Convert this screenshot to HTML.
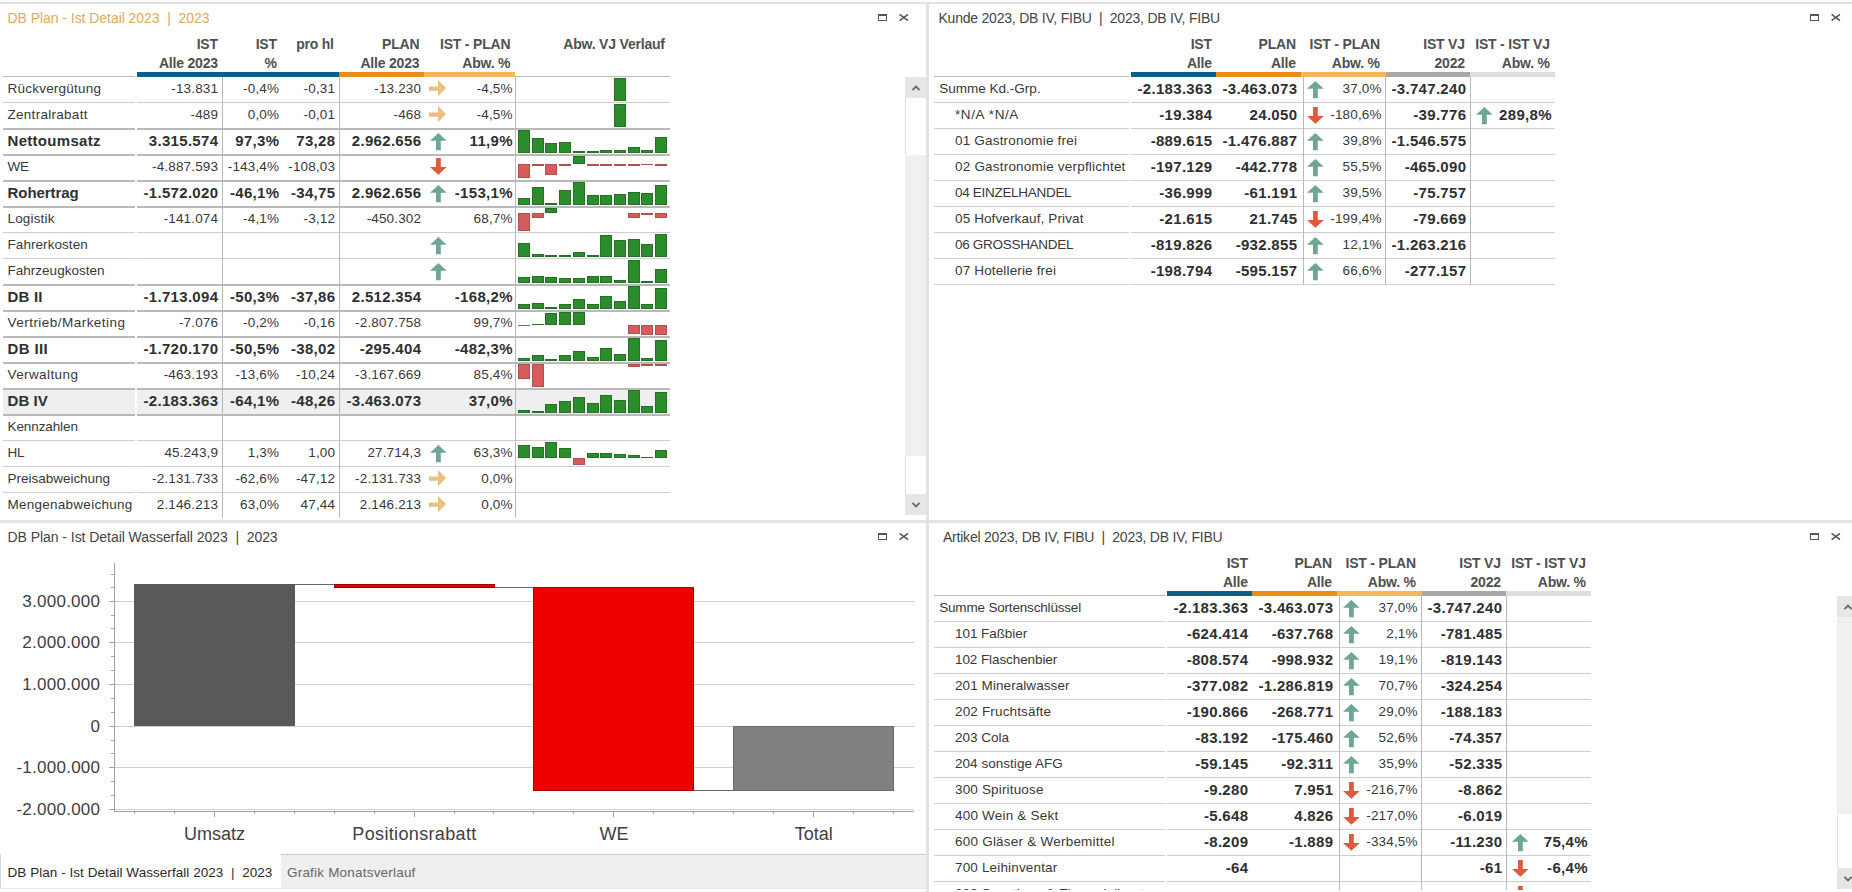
<!DOCTYPE html>
<html><head><meta charset="utf-8"><style>
html,body{margin:0;padding:0;background:#fff;}
body{width:1852px;height:892px;position:relative;overflow:hidden;font-family:"Liberation Sans", sans-serif;}
.t{position:absolute;white-space:pre;}
.r{position:absolute;}
.clip{position:absolute;overflow:hidden;}
</style></head><body>
<div class="r" style="left:0px;top:2px;width:1852px;height:2px;background:#e2e2e2;"></div>
<div class="r" style="left:926px;top:2px;width:3px;height:890px;background:#e2e2e2;"></div>
<div class="r" style="left:0px;top:520px;width:1852px;height:3px;background:#e2e2e2;"></div>
<div class="t" style="left:7.50px;top:9.10px;width:600px;font-size:14px;line-height:19px;font-weight:normal;color:#dfa95f;text-align:left;letter-spacing:-0.05px;">DB Plan - Ist Detail 2023  |  2023</div>
<svg class="r" style="left:878px;top:14px" width="9" height="7" viewBox="0 0 9 7"><rect x="0.5" y="0.5" width="8" height="6" fill="none" stroke="#555" stroke-width="1"/><rect x="0" y="0" width="9" height="2" fill="#555"/></svg>
<svg class="r" style="left:899px;top:14px" width="10" height="8" viewBox="0 0 10 8"><path d="M0.6,0.4 L9,6.6 M9,0.4 L0.6,6.6" stroke="#505050" stroke-width="1.45" fill="none"/></svg>
<div class="t" style="left:-382.00px;top:35.10px;width:600px;font-size:14px;line-height:19px;font-weight:bold;color:#505050;text-align:right;letter-spacing:-0.2px;margin-left:-0.2px;">IST</div>
<div class="t" style="left:-382.00px;top:54.10px;width:600px;font-size:14px;line-height:19px;font-weight:bold;color:#505050;text-align:right;letter-spacing:-0.2px;margin-left:-0.2px;">Alle 2023</div>
<div class="t" style="left:-323.00px;top:35.10px;width:600px;font-size:14px;line-height:19px;font-weight:bold;color:#505050;text-align:right;letter-spacing:-0.2px;margin-left:-0.2px;">IST</div>
<div class="t" style="left:-323.00px;top:54.10px;width:600px;font-size:14px;line-height:19px;font-weight:bold;color:#505050;text-align:right;letter-spacing:-0.2px;margin-left:-0.2px;">%</div>
<div class="t" style="left:-266.00px;top:35.10px;width:600px;font-size:14px;line-height:19px;font-weight:bold;color:#505050;text-align:right;letter-spacing:-0.2px;margin-left:-0.2px;">pro hl</div>
<div class="t" style="left:-180.50px;top:35.10px;width:600px;font-size:14px;line-height:19px;font-weight:bold;color:#505050;text-align:right;letter-spacing:-0.2px;margin-left:-0.2px;">PLAN</div>
<div class="t" style="left:-180.50px;top:54.10px;width:600px;font-size:14px;line-height:19px;font-weight:bold;color:#505050;text-align:right;letter-spacing:-0.2px;margin-left:-0.2px;">Alle 2023</div>
<div class="t" style="left:-89.50px;top:35.10px;width:600px;font-size:14px;line-height:19px;font-weight:bold;color:#505050;text-align:right;letter-spacing:-0.2px;margin-left:-0.2px;">IST - PLAN</div>
<div class="t" style="left:-89.50px;top:54.10px;width:600px;font-size:14px;line-height:19px;font-weight:bold;color:#505050;text-align:right;letter-spacing:-0.2px;margin-left:-0.2px;">Abw. %</div>
<div class="t" style="left:65.00px;top:35.10px;width:600px;font-size:14px;line-height:19px;font-weight:bold;color:#505050;text-align:right;letter-spacing:-0.2px;margin-left:-0.2px;">Abw. VJ Verlauf</div>
<div class="r" style="left:3px;top:76px;width:132px;height:1px;background:#b8b8b8;"></div>
<div class="r" style="left:137px;top:72px;width:202px;height:5px;background:#0b6087;"></div>
<div class="r" style="left:339px;top:72px;width:85px;height:5px;background:#ea8c15;"></div>
<div class="r" style="left:424px;top:72px;width:91px;height:5px;background:#f6b75c;"></div>
<div class="r" style="left:515px;top:76px;width:155px;height:1px;background:#b8b8b8;"></div>
<div class="r" style="left:3px;top:389px;width:132px;height:25px;background:#efefef;"></div>
<div class="r" style="left:137px;top:389px;width:533px;height:25px;background:#efefef;"></div>
<div class="r" style="left:3px;top:102px;width:132px;height:1px;background:#cecece;"></div>
<div class="r" style="left:137px;top:102px;width:533px;height:1px;background:#cecece;"></div>
<div class="t" style="left:7.50px;top:79.77px;width:600px;font-size:13.5px;line-height:18px;font-weight:normal;color:#383838;text-align:left;letter-spacing:0.226px;">Rückvergütung</div>
<div class="t" style="left:-382.00px;top:79.77px;width:600px;font-size:13.5px;line-height:18px;font-weight:normal;color:#383838;text-align:right;letter-spacing:0.15px;margin-left:0.15px;">-13.831</div>
<div class="t" style="left:-321.00px;top:79.77px;width:600px;font-size:13.5px;line-height:18px;font-weight:normal;color:#383838;text-align:right;letter-spacing:0.15px;margin-left:0.15px;">-0,4%</div>
<div class="t" style="left:-265.00px;top:79.77px;width:600px;font-size:13.5px;line-height:18px;font-weight:normal;color:#383838;text-align:right;letter-spacing:0.15px;margin-left:0.15px;">-0,31</div>
<div class="t" style="left:-179.00px;top:79.77px;width:600px;font-size:13.5px;line-height:18px;font-weight:normal;color:#383838;text-align:right;letter-spacing:0.15px;margin-left:0.15px;">-13.230</div>
<div class="t" style="left:-87.50px;top:79.77px;width:600px;font-size:13.5px;line-height:18px;font-weight:normal;color:#383838;text-align:right;letter-spacing:0.15px;margin-left:0.15px;">-4,5%</div>
<svg class="r" style="left:429.2px;top:80.3px" width="17" height="17" viewBox="0 0 17 17"><path d="M0,6.4 L9,6.4 L9,0 L17,8.1 L9,16.3 L9,10.8 L0,10.8 Z" fill="#ecc07c"/></svg>
<div class="r" style="left:3px;top:128px;width:132px;height:2px;background:#b9b9b9;"></div>
<div class="r" style="left:137px;top:128px;width:533px;height:2px;background:#b9b9b9;"></div>
<div class="t" style="left:7.50px;top:105.77px;width:600px;font-size:13.5px;line-height:18px;font-weight:normal;color:#383838;text-align:left;letter-spacing:0.284px;">Zentralrabatt</div>
<div class="t" style="left:-382.00px;top:105.77px;width:600px;font-size:13.5px;line-height:18px;font-weight:normal;color:#383838;text-align:right;letter-spacing:0.15px;margin-left:0.15px;">-489</div>
<div class="t" style="left:-321.00px;top:105.77px;width:600px;font-size:13.5px;line-height:18px;font-weight:normal;color:#383838;text-align:right;letter-spacing:0.15px;margin-left:0.15px;">0,0%</div>
<div class="t" style="left:-265.00px;top:105.77px;width:600px;font-size:13.5px;line-height:18px;font-weight:normal;color:#383838;text-align:right;letter-spacing:0.15px;margin-left:0.15px;">-0,01</div>
<div class="t" style="left:-179.00px;top:105.77px;width:600px;font-size:13.5px;line-height:18px;font-weight:normal;color:#383838;text-align:right;letter-spacing:0.15px;margin-left:0.15px;">-468</div>
<div class="t" style="left:-87.50px;top:105.77px;width:600px;font-size:13.5px;line-height:18px;font-weight:normal;color:#383838;text-align:right;letter-spacing:0.15px;margin-left:0.15px;">-4,5%</div>
<svg class="r" style="left:429.2px;top:106.3px" width="17" height="17" viewBox="0 0 17 17"><path d="M0,6.4 L9,6.4 L9,0 L17,8.1 L9,16.3 L9,10.8 L0,10.8 Z" fill="#ecc07c"/></svg>
<div class="r" style="left:3px;top:154px;width:132px;height:2px;background:#b9b9b9;"></div>
<div class="r" style="left:137px;top:154px;width:533px;height:2px;background:#b9b9b9;"></div>
<div class="t" style="left:7.50px;top:131.25px;width:600px;font-size:15px;line-height:20px;font-weight:bold;color:#303030;text-align:left;letter-spacing:0.299px;">Nettoumsatz</div>
<div class="t" style="left:-382.00px;top:131.25px;width:600px;font-size:15px;line-height:20px;font-weight:bold;color:#303030;text-align:right;letter-spacing:0.3px;margin-left:0.3px;">3.315.574</div>
<div class="t" style="left:-321.00px;top:131.25px;width:600px;font-size:15px;line-height:20px;font-weight:bold;color:#303030;text-align:right;letter-spacing:0.3px;margin-left:0.3px;">97,3%</div>
<div class="t" style="left:-265.00px;top:131.25px;width:600px;font-size:15px;line-height:20px;font-weight:bold;color:#303030;text-align:right;letter-spacing:0.3px;margin-left:0.3px;">73,28</div>
<div class="t" style="left:-179.00px;top:131.25px;width:600px;font-size:15px;line-height:20px;font-weight:bold;color:#303030;text-align:right;letter-spacing:0.3px;margin-left:0.3px;">2.962.656</div>
<div class="t" style="left:-87.50px;top:131.25px;width:600px;font-size:15px;line-height:20px;font-weight:bold;color:#303030;text-align:right;letter-spacing:0.3px;margin-left:0.3px;">11,9%</div>
<svg class="r" style="left:429.5px;top:132.7px" width="17" height="18" viewBox="0 0 17 18"><path d="M8.4,0 L16.7,7.8 L10.8,7.8 L10.8,17.2 L6,17.2 L6,7.8 L0,7.8 Z" fill="#6ea596"/></svg>
<div class="r" style="left:3px;top:180px;width:132px;height:2px;background:#b9b9b9;"></div>
<div class="r" style="left:137px;top:180px;width:533px;height:2px;background:#b9b9b9;"></div>
<div class="t" style="left:7.50px;top:157.77px;width:600px;font-size:13.5px;line-height:18px;font-weight:normal;color:#383838;text-align:left;letter-spacing:-0.3px;">WE</div>
<div class="t" style="left:-382.00px;top:157.77px;width:600px;font-size:13.5px;line-height:18px;font-weight:normal;color:#383838;text-align:right;letter-spacing:0.15px;margin-left:0.15px;">-4.887.593</div>
<div class="t" style="left:-321.00px;top:157.77px;width:600px;font-size:13.5px;line-height:18px;font-weight:normal;color:#383838;text-align:right;letter-spacing:0.15px;margin-left:0.15px;">-143,4%</div>
<div class="t" style="left:-265.00px;top:157.77px;width:600px;font-size:13.5px;line-height:18px;font-weight:normal;color:#383838;text-align:right;letter-spacing:0.15px;margin-left:0.15px;">-108,03</div>
<svg class="r" style="left:429.5px;top:158.3px" width="17" height="18" viewBox="0 0 17 18"><path d="M6,0 L10.8,0 L10.8,8.9 L16.7,8.9 L8.4,16.8 L0,8.9 L6,8.9 Z" fill="#df5a3d"/></svg>
<div class="r" style="left:3px;top:206px;width:132px;height:2px;background:#b9b9b9;"></div>
<div class="r" style="left:137px;top:206px;width:533px;height:2px;background:#b9b9b9;"></div>
<div class="t" style="left:7.50px;top:183.25px;width:600px;font-size:15px;line-height:20px;font-weight:bold;color:#303030;text-align:left;letter-spacing:-0.052px;">Rohertrag</div>
<div class="t" style="left:-382.00px;top:183.25px;width:600px;font-size:15px;line-height:20px;font-weight:bold;color:#303030;text-align:right;letter-spacing:0.3px;margin-left:0.3px;">-1.572.020</div>
<div class="t" style="left:-321.00px;top:183.25px;width:600px;font-size:15px;line-height:20px;font-weight:bold;color:#303030;text-align:right;letter-spacing:0.3px;margin-left:0.3px;">-46,1%</div>
<div class="t" style="left:-265.00px;top:183.25px;width:600px;font-size:15px;line-height:20px;font-weight:bold;color:#303030;text-align:right;letter-spacing:0.3px;margin-left:0.3px;">-34,75</div>
<div class="t" style="left:-179.00px;top:183.25px;width:600px;font-size:15px;line-height:20px;font-weight:bold;color:#303030;text-align:right;letter-spacing:0.3px;margin-left:0.3px;">2.962.656</div>
<div class="t" style="left:-87.50px;top:183.25px;width:600px;font-size:15px;line-height:20px;font-weight:bold;color:#303030;text-align:right;letter-spacing:0.3px;margin-left:0.3px;">-153,1%</div>
<svg class="r" style="left:429.5px;top:184.7px" width="17" height="18" viewBox="0 0 17 18"><path d="M8.4,0 L16.7,7.8 L10.8,7.8 L10.8,17.2 L6,17.2 L6,7.8 L0,7.8 Z" fill="#6ea596"/></svg>
<div class="r" style="left:3px;top:232px;width:132px;height:1px;background:#cecece;"></div>
<div class="r" style="left:137px;top:232px;width:533px;height:1px;background:#cecece;"></div>
<div class="t" style="left:7.50px;top:209.77px;width:600px;font-size:13.5px;line-height:18px;font-weight:normal;color:#383838;text-align:left;letter-spacing:0.168px;">Logistik</div>
<div class="t" style="left:-382.00px;top:209.77px;width:600px;font-size:13.5px;line-height:18px;font-weight:normal;color:#383838;text-align:right;letter-spacing:0.15px;margin-left:0.15px;">-141.074</div>
<div class="t" style="left:-321.00px;top:209.77px;width:600px;font-size:13.5px;line-height:18px;font-weight:normal;color:#383838;text-align:right;letter-spacing:0.15px;margin-left:0.15px;">-4,1%</div>
<div class="t" style="left:-265.00px;top:209.77px;width:600px;font-size:13.5px;line-height:18px;font-weight:normal;color:#383838;text-align:right;letter-spacing:0.15px;margin-left:0.15px;">-3,12</div>
<div class="t" style="left:-179.00px;top:209.77px;width:600px;font-size:13.5px;line-height:18px;font-weight:normal;color:#383838;text-align:right;letter-spacing:0.15px;margin-left:0.15px;">-450.302</div>
<div class="t" style="left:-87.50px;top:209.77px;width:600px;font-size:13.5px;line-height:18px;font-weight:normal;color:#383838;text-align:right;letter-spacing:0.15px;margin-left:0.15px;">68,7%</div>
<div class="r" style="left:3px;top:258px;width:132px;height:1px;background:#cecece;"></div>
<div class="r" style="left:137px;top:258px;width:533px;height:1px;background:#cecece;"></div>
<div class="t" style="left:7.50px;top:235.77px;width:600px;font-size:13.5px;line-height:18px;font-weight:normal;color:#383838;text-align:left;letter-spacing:0.061px;">Fahrerkosten</div>
<svg class="r" style="left:429.5px;top:236.7px" width="17" height="18" viewBox="0 0 17 18"><path d="M8.4,0 L16.7,7.8 L10.8,7.8 L10.8,17.2 L6,17.2 L6,7.8 L0,7.8 Z" fill="#6ea596"/></svg>
<div class="r" style="left:3px;top:284px;width:132px;height:2px;background:#b9b9b9;"></div>
<div class="r" style="left:137px;top:284px;width:533px;height:2px;background:#b9b9b9;"></div>
<div class="t" style="left:7.50px;top:261.77px;width:600px;font-size:13.5px;line-height:18px;font-weight:normal;color:#383838;text-align:left;letter-spacing:0.015px;">Fahrzeugkosten</div>
<svg class="r" style="left:429.5px;top:262.7px" width="17" height="18" viewBox="0 0 17 18"><path d="M8.4,0 L16.7,7.8 L10.8,7.8 L10.8,17.2 L6,17.2 L6,7.8 L0,7.8 Z" fill="#6ea596"/></svg>
<div class="r" style="left:3px;top:310px;width:132px;height:2px;background:#b9b9b9;"></div>
<div class="r" style="left:137px;top:310px;width:533px;height:2px;background:#b9b9b9;"></div>
<div class="t" style="left:7.50px;top:287.25px;width:600px;font-size:15px;line-height:20px;font-weight:bold;color:#303030;text-align:left;letter-spacing:0.2px;">DB II</div>
<div class="t" style="left:-382.00px;top:287.25px;width:600px;font-size:15px;line-height:20px;font-weight:bold;color:#303030;text-align:right;letter-spacing:0.3px;margin-left:0.3px;">-1.713.094</div>
<div class="t" style="left:-321.00px;top:287.25px;width:600px;font-size:15px;line-height:20px;font-weight:bold;color:#303030;text-align:right;letter-spacing:0.3px;margin-left:0.3px;">-50,3%</div>
<div class="t" style="left:-265.00px;top:287.25px;width:600px;font-size:15px;line-height:20px;font-weight:bold;color:#303030;text-align:right;letter-spacing:0.3px;margin-left:0.3px;">-37,86</div>
<div class="t" style="left:-179.00px;top:287.25px;width:600px;font-size:15px;line-height:20px;font-weight:bold;color:#303030;text-align:right;letter-spacing:0.3px;margin-left:0.3px;">2.512.354</div>
<div class="t" style="left:-87.50px;top:287.25px;width:600px;font-size:15px;line-height:20px;font-weight:bold;color:#303030;text-align:right;letter-spacing:0.3px;margin-left:0.3px;">-168,2%</div>
<div class="r" style="left:3px;top:336px;width:132px;height:2px;background:#b9b9b9;"></div>
<div class="r" style="left:137px;top:336px;width:533px;height:2px;background:#b9b9b9;"></div>
<div class="t" style="left:7.50px;top:313.77px;width:600px;font-size:13.5px;line-height:18px;font-weight:normal;color:#383838;text-align:left;letter-spacing:0.468px;">Vertrieb/Marketing</div>
<div class="t" style="left:-382.00px;top:313.77px;width:600px;font-size:13.5px;line-height:18px;font-weight:normal;color:#383838;text-align:right;letter-spacing:0.15px;margin-left:0.15px;">-7.076</div>
<div class="t" style="left:-321.00px;top:313.77px;width:600px;font-size:13.5px;line-height:18px;font-weight:normal;color:#383838;text-align:right;letter-spacing:0.15px;margin-left:0.15px;">-0,2%</div>
<div class="t" style="left:-265.00px;top:313.77px;width:600px;font-size:13.5px;line-height:18px;font-weight:normal;color:#383838;text-align:right;letter-spacing:0.15px;margin-left:0.15px;">-0,16</div>
<div class="t" style="left:-179.00px;top:313.77px;width:600px;font-size:13.5px;line-height:18px;font-weight:normal;color:#383838;text-align:right;letter-spacing:0.15px;margin-left:0.15px;">-2.807.758</div>
<div class="t" style="left:-87.50px;top:313.77px;width:600px;font-size:13.5px;line-height:18px;font-weight:normal;color:#383838;text-align:right;letter-spacing:0.15px;margin-left:0.15px;">99,7%</div>
<div class="r" style="left:3px;top:362px;width:132px;height:2px;background:#b9b9b9;"></div>
<div class="r" style="left:137px;top:362px;width:533px;height:2px;background:#b9b9b9;"></div>
<div class="t" style="left:7.50px;top:339.25px;width:600px;font-size:15px;line-height:20px;font-weight:bold;color:#303030;text-align:left;letter-spacing:0.367px;">DB III</div>
<div class="t" style="left:-382.00px;top:339.25px;width:600px;font-size:15px;line-height:20px;font-weight:bold;color:#303030;text-align:right;letter-spacing:0.3px;margin-left:0.3px;">-1.720.170</div>
<div class="t" style="left:-321.00px;top:339.25px;width:600px;font-size:15px;line-height:20px;font-weight:bold;color:#303030;text-align:right;letter-spacing:0.3px;margin-left:0.3px;">-50,5%</div>
<div class="t" style="left:-265.00px;top:339.25px;width:600px;font-size:15px;line-height:20px;font-weight:bold;color:#303030;text-align:right;letter-spacing:0.3px;margin-left:0.3px;">-38,02</div>
<div class="t" style="left:-179.00px;top:339.25px;width:600px;font-size:15px;line-height:20px;font-weight:bold;color:#303030;text-align:right;letter-spacing:0.3px;margin-left:0.3px;">-295.404</div>
<div class="t" style="left:-87.50px;top:339.25px;width:600px;font-size:15px;line-height:20px;font-weight:bold;color:#303030;text-align:right;letter-spacing:0.3px;margin-left:0.3px;">-482,3%</div>
<div class="r" style="left:3px;top:388px;width:132px;height:2px;background:#b9b9b9;"></div>
<div class="r" style="left:137px;top:388px;width:533px;height:2px;background:#b9b9b9;"></div>
<div class="t" style="left:7.50px;top:365.77px;width:600px;font-size:13.5px;line-height:18px;font-weight:normal;color:#383838;text-align:left;letter-spacing:0.401px;">Verwaltung</div>
<div class="t" style="left:-382.00px;top:365.77px;width:600px;font-size:13.5px;line-height:18px;font-weight:normal;color:#383838;text-align:right;letter-spacing:0.15px;margin-left:0.15px;">-463.193</div>
<div class="t" style="left:-321.00px;top:365.77px;width:600px;font-size:13.5px;line-height:18px;font-weight:normal;color:#383838;text-align:right;letter-spacing:0.15px;margin-left:0.15px;">-13,6%</div>
<div class="t" style="left:-265.00px;top:365.77px;width:600px;font-size:13.5px;line-height:18px;font-weight:normal;color:#383838;text-align:right;letter-spacing:0.15px;margin-left:0.15px;">-10,24</div>
<div class="t" style="left:-179.00px;top:365.77px;width:600px;font-size:13.5px;line-height:18px;font-weight:normal;color:#383838;text-align:right;letter-spacing:0.15px;margin-left:0.15px;">-3.167.669</div>
<div class="t" style="left:-87.50px;top:365.77px;width:600px;font-size:13.5px;line-height:18px;font-weight:normal;color:#383838;text-align:right;letter-spacing:0.15px;margin-left:0.15px;">85,4%</div>
<div class="r" style="left:3px;top:414px;width:132px;height:2px;background:#b9b9b9;"></div>
<div class="r" style="left:137px;top:414px;width:533px;height:2px;background:#b9b9b9;"></div>
<div class="t" style="left:7.50px;top:391.25px;width:600px;font-size:15px;line-height:20px;font-weight:bold;color:#303030;text-align:left;letter-spacing:0.075px;">DB IV</div>
<div class="t" style="left:-382.00px;top:391.25px;width:600px;font-size:15px;line-height:20px;font-weight:bold;color:#303030;text-align:right;letter-spacing:0.3px;margin-left:0.3px;">-2.183.363</div>
<div class="t" style="left:-321.00px;top:391.25px;width:600px;font-size:15px;line-height:20px;font-weight:bold;color:#303030;text-align:right;letter-spacing:0.3px;margin-left:0.3px;">-64,1%</div>
<div class="t" style="left:-265.00px;top:391.25px;width:600px;font-size:15px;line-height:20px;font-weight:bold;color:#303030;text-align:right;letter-spacing:0.3px;margin-left:0.3px;">-48,26</div>
<div class="t" style="left:-179.00px;top:391.25px;width:600px;font-size:15px;line-height:20px;font-weight:bold;color:#303030;text-align:right;letter-spacing:0.3px;margin-left:0.3px;">-3.463.073</div>
<div class="t" style="left:-87.50px;top:391.25px;width:600px;font-size:15px;line-height:20px;font-weight:bold;color:#303030;text-align:right;letter-spacing:0.3px;margin-left:0.3px;">37,0%</div>
<div class="r" style="left:3px;top:440px;width:132px;height:1px;background:#cecece;"></div>
<div class="r" style="left:137px;top:440px;width:533px;height:1px;background:#cecece;"></div>
<div class="t" style="left:7.50px;top:417.77px;width:600px;font-size:13.5px;line-height:18px;font-weight:normal;color:#383838;text-align:left;letter-spacing:-0.1px;">Kennzahlen</div>
<div class="r" style="left:3px;top:466px;width:132px;height:1px;background:#cecece;"></div>
<div class="r" style="left:137px;top:466px;width:533px;height:1px;background:#cecece;"></div>
<div class="t" style="left:7.50px;top:443.77px;width:600px;font-size:13.5px;line-height:18px;font-weight:normal;color:#383838;text-align:left;letter-spacing:-0.3px;">HL</div>
<div class="t" style="left:-382.00px;top:443.77px;width:600px;font-size:13.5px;line-height:18px;font-weight:normal;color:#383838;text-align:right;letter-spacing:0.15px;margin-left:0.15px;">45.243,9</div>
<div class="t" style="left:-321.00px;top:443.77px;width:600px;font-size:13.5px;line-height:18px;font-weight:normal;color:#383838;text-align:right;letter-spacing:0.15px;margin-left:0.15px;">1,3%</div>
<div class="t" style="left:-265.00px;top:443.77px;width:600px;font-size:13.5px;line-height:18px;font-weight:normal;color:#383838;text-align:right;letter-spacing:0.15px;margin-left:0.15px;">1,00</div>
<div class="t" style="left:-179.00px;top:443.77px;width:600px;font-size:13.5px;line-height:18px;font-weight:normal;color:#383838;text-align:right;letter-spacing:0.15px;margin-left:0.15px;">27.714,3</div>
<div class="t" style="left:-87.50px;top:443.77px;width:600px;font-size:13.5px;line-height:18px;font-weight:normal;color:#383838;text-align:right;letter-spacing:0.15px;margin-left:0.15px;">63,3%</div>
<svg class="r" style="left:429.5px;top:444.7px" width="17" height="18" viewBox="0 0 17 18"><path d="M8.4,0 L16.7,7.8 L10.8,7.8 L10.8,17.2 L6,17.2 L6,7.8 L0,7.8 Z" fill="#6ea596"/></svg>
<div class="r" style="left:3px;top:492px;width:132px;height:1px;background:#cecece;"></div>
<div class="r" style="left:137px;top:492px;width:533px;height:1px;background:#cecece;"></div>
<div class="t" style="left:7.50px;top:469.77px;width:600px;font-size:13.5px;line-height:18px;font-weight:normal;color:#383838;text-align:left;letter-spacing:-0.015px;">Preisabweichung</div>
<div class="t" style="left:-382.00px;top:469.77px;width:600px;font-size:13.5px;line-height:18px;font-weight:normal;color:#383838;text-align:right;letter-spacing:0.15px;margin-left:0.15px;">-2.131.733</div>
<div class="t" style="left:-321.00px;top:469.77px;width:600px;font-size:13.5px;line-height:18px;font-weight:normal;color:#383838;text-align:right;letter-spacing:0.15px;margin-left:0.15px;">-62,6%</div>
<div class="t" style="left:-265.00px;top:469.77px;width:600px;font-size:13.5px;line-height:18px;font-weight:normal;color:#383838;text-align:right;letter-spacing:0.15px;margin-left:0.15px;">-47,12</div>
<div class="t" style="left:-179.00px;top:469.77px;width:600px;font-size:13.5px;line-height:18px;font-weight:normal;color:#383838;text-align:right;letter-spacing:0.15px;margin-left:0.15px;">-2.131.733</div>
<div class="t" style="left:-87.50px;top:469.77px;width:600px;font-size:13.5px;line-height:18px;font-weight:normal;color:#383838;text-align:right;letter-spacing:0.15px;margin-left:0.15px;">0,0%</div>
<svg class="r" style="left:429.2px;top:470.3px" width="17" height="17" viewBox="0 0 17 17"><path d="M0,6.4 L9,6.4 L9,0 L17,8.1 L9,16.3 L9,10.8 L0,10.8 Z" fill="#ecc07c"/></svg>
<div class="t" style="left:7.50px;top:495.77px;width:600px;font-size:13.5px;line-height:18px;font-weight:normal;color:#383838;text-align:left;letter-spacing:0.258px;">Mengenabweichung</div>
<div class="t" style="left:-382.00px;top:495.77px;width:600px;font-size:13.5px;line-height:18px;font-weight:normal;color:#383838;text-align:right;letter-spacing:0.15px;margin-left:0.15px;">2.146.213</div>
<div class="t" style="left:-321.00px;top:495.77px;width:600px;font-size:13.5px;line-height:18px;font-weight:normal;color:#383838;text-align:right;letter-spacing:0.15px;margin-left:0.15px;">63,0%</div>
<div class="t" style="left:-265.00px;top:495.77px;width:600px;font-size:13.5px;line-height:18px;font-weight:normal;color:#383838;text-align:right;letter-spacing:0.15px;margin-left:0.15px;">47,44</div>
<div class="t" style="left:-179.00px;top:495.77px;width:600px;font-size:13.5px;line-height:18px;font-weight:normal;color:#383838;text-align:right;letter-spacing:0.15px;margin-left:0.15px;">2.146.213</div>
<div class="t" style="left:-87.50px;top:495.77px;width:600px;font-size:13.5px;line-height:18px;font-weight:normal;color:#383838;text-align:right;letter-spacing:0.15px;margin-left:0.15px;">0,0%</div>
<svg class="r" style="left:429.2px;top:496.3px" width="17" height="17" viewBox="0 0 17 17"><path d="M0,6.4 L9,6.4 L9,0 L17,8.1 L9,16.3 L9,10.8 L0,10.8 Z" fill="#ecc07c"/></svg>
<div class="r" style="left:222px;top:77px;width:1px;height:441px;background:#b8b8b8;"></div>
<div class="r" style="left:339px;top:77px;width:1px;height:441px;background:#b8b8b8;"></div>
<div class="r" style="left:515px;top:77px;width:1px;height:441px;background:#b8b8b8;"></div>
<div class="r" style="left:614px;top:78px;width:12px;height:23px;background:#2a8c2a;box-shadow:inset 0 0 0 1px #257025;"></div>
<div class="r" style="left:614px;top:104px;width:12px;height:23px;background:#2a8c2a;box-shadow:inset 0 0 0 1px #257025;"></div>
<div class="r" style="left:518px;top:130px;width:12px;height:23px;background:#2a8c2a;box-shadow:inset 0 0 0 1px #257025;"></div>
<div class="r" style="left:532px;top:138px;width:12px;height:15px;background:#2a8c2a;box-shadow:inset 0 0 0 1px #257025;"></div>
<div class="r" style="left:545px;top:143px;width:12px;height:10px;background:#2a8c2a;box-shadow:inset 0 0 0 1px #257025;"></div>
<div class="r" style="left:559px;top:142px;width:12px;height:11px;background:#2a8c2a;box-shadow:inset 0 0 0 1px #257025;"></div>
<div class="r" style="left:573px;top:151px;width:12px;height:2px;background:#257025;"></div>
<div class="r" style="left:587px;top:151px;width:12px;height:2px;background:#257025;"></div>
<div class="r" style="left:600px;top:150px;width:12px;height:3px;background:#2a8c2a;box-shadow:inset 0 0 0 1px #257025;"></div>
<div class="r" style="left:614px;top:150px;width:12px;height:3px;background:#2a8c2a;box-shadow:inset 0 0 0 1px #257025;"></div>
<div class="r" style="left:628px;top:147px;width:12px;height:6px;background:#2a8c2a;box-shadow:inset 0 0 0 1px #257025;"></div>
<div class="r" style="left:641px;top:150px;width:12px;height:3px;background:#2a8c2a;box-shadow:inset 0 0 0 1px #257025;"></div>
<div class="r" style="left:655px;top:137px;width:12px;height:16px;background:#2a8c2a;box-shadow:inset 0 0 0 1px #257025;"></div>
<div class="r" style="left:518px;top:164px;width:12px;height:14px;background:#d65c5c;box-shadow:inset 0 0 0 1px #b25050;"></div>
<div class="r" style="left:532px;top:164px;width:12px;height:2px;background:#b25050;"></div>
<div class="r" style="left:545px;top:164px;width:12px;height:11px;background:#d65c5c;box-shadow:inset 0 0 0 1px #b25050;"></div>
<div class="r" style="left:559px;top:164px;width:12px;height:2px;background:#b25050;"></div>
<div class="r" style="left:573px;top:156px;width:12px;height:8px;background:#2a8c2a;box-shadow:inset 0 0 0 1px #257025;"></div>
<div class="r" style="left:587px;top:164px;width:12px;height:2px;background:#b25050;"></div>
<div class="r" style="left:600px;top:164px;width:12px;height:2px;background:#b25050;"></div>
<div class="r" style="left:614px;top:164px;width:12px;height:2px;background:#b25050;"></div>
<div class="r" style="left:628px;top:164px;width:12px;height:2px;background:#b25050;"></div>
<div class="r" style="left:641px;top:164px;width:12px;height:1px;background:#b25050;"></div>
<div class="r" style="left:655px;top:164px;width:12px;height:2px;background:#b25050;"></div>
<div class="r" style="left:518px;top:198px;width:12px;height:7px;background:#2a8c2a;box-shadow:inset 0 0 0 1px #257025;"></div>
<div class="r" style="left:532px;top:187px;width:12px;height:18px;background:#2a8c2a;box-shadow:inset 0 0 0 1px #257025;"></div>
<div class="r" style="left:545px;top:203px;width:12px;height:2px;background:#257025;"></div>
<div class="r" style="left:559px;top:190px;width:12px;height:15px;background:#2a8c2a;box-shadow:inset 0 0 0 1px #257025;"></div>
<div class="r" style="left:573px;top:182px;width:12px;height:23px;background:#2a8c2a;box-shadow:inset 0 0 0 1px #257025;"></div>
<div class="r" style="left:587px;top:195px;width:12px;height:10px;background:#2a8c2a;box-shadow:inset 0 0 0 1px #257025;"></div>
<div class="r" style="left:600px;top:195px;width:12px;height:10px;background:#2a8c2a;box-shadow:inset 0 0 0 1px #257025;"></div>
<div class="r" style="left:614px;top:194px;width:12px;height:11px;background:#2a8c2a;box-shadow:inset 0 0 0 1px #257025;"></div>
<div class="r" style="left:628px;top:192px;width:12px;height:13px;background:#2a8c2a;box-shadow:inset 0 0 0 1px #257025;"></div>
<div class="r" style="left:641px;top:193px;width:12px;height:12px;background:#2a8c2a;box-shadow:inset 0 0 0 1px #257025;"></div>
<div class="r" style="left:655px;top:185px;width:12px;height:20px;background:#2a8c2a;box-shadow:inset 0 0 0 1px #257025;"></div>
<div class="r" style="left:518px;top:213px;width:12px;height:18px;background:#d65c5c;box-shadow:inset 0 0 0 1px #b25050;"></div>
<div class="r" style="left:532px;top:213px;width:12px;height:5px;background:#d65c5c;box-shadow:inset 0 0 0 1px #b25050;"></div>
<div class="r" style="left:545px;top:208px;width:12px;height:5px;background:#2a8c2a;box-shadow:inset 0 0 0 1px #257025;"></div>
<div class="r" style="left:628px;top:213px;width:12px;height:5px;background:#d65c5c;box-shadow:inset 0 0 0 1px #b25050;"></div>
<div class="r" style="left:641px;top:213px;width:12px;height:2px;background:#b25050;"></div>
<div class="r" style="left:655px;top:213px;width:12px;height:5px;background:#d65c5c;box-shadow:inset 0 0 0 1px #b25050;"></div>
<div class="r" style="left:518px;top:243px;width:12px;height:14px;background:#2a8c2a;box-shadow:inset 0 0 0 1px #257025;"></div>
<div class="r" style="left:532px;top:254px;width:12px;height:3px;background:#2a8c2a;box-shadow:inset 0 0 0 1px #257025;"></div>
<div class="r" style="left:545px;top:255px;width:12px;height:2px;background:#257025;"></div>
<div class="r" style="left:559px;top:255px;width:12px;height:2px;background:#257025;"></div>
<div class="r" style="left:573px;top:252px;width:12px;height:5px;background:#2a8c2a;box-shadow:inset 0 0 0 1px #257025;"></div>
<div class="r" style="left:587px;top:255px;width:12px;height:2px;background:#257025;"></div>
<div class="r" style="left:600px;top:235px;width:12px;height:22px;background:#2a8c2a;box-shadow:inset 0 0 0 1px #257025;"></div>
<div class="r" style="left:614px;top:240px;width:12px;height:17px;background:#2a8c2a;box-shadow:inset 0 0 0 1px #257025;"></div>
<div class="r" style="left:628px;top:239px;width:12px;height:18px;background:#2a8c2a;box-shadow:inset 0 0 0 1px #257025;"></div>
<div class="r" style="left:641px;top:244px;width:12px;height:13px;background:#2a8c2a;box-shadow:inset 0 0 0 1px #257025;"></div>
<div class="r" style="left:655px;top:234px;width:12px;height:23px;background:#2a8c2a;box-shadow:inset 0 0 0 1px #257025;"></div>
<div class="r" style="left:518px;top:277px;width:12px;height:6px;background:#2a8c2a;box-shadow:inset 0 0 0 1px #257025;"></div>
<div class="r" style="left:532px;top:276px;width:12px;height:7px;background:#2a8c2a;box-shadow:inset 0 0 0 1px #257025;"></div>
<div class="r" style="left:545px;top:277px;width:12px;height:6px;background:#2a8c2a;box-shadow:inset 0 0 0 1px #257025;"></div>
<div class="r" style="left:559px;top:278px;width:12px;height:5px;background:#2a8c2a;box-shadow:inset 0 0 0 1px #257025;"></div>
<div class="r" style="left:573px;top:278px;width:12px;height:5px;background:#2a8c2a;box-shadow:inset 0 0 0 1px #257025;"></div>
<div class="r" style="left:587px;top:276px;width:12px;height:7px;background:#2a8c2a;box-shadow:inset 0 0 0 1px #257025;"></div>
<div class="r" style="left:600px;top:276px;width:12px;height:7px;background:#2a8c2a;box-shadow:inset 0 0 0 1px #257025;"></div>
<div class="r" style="left:614px;top:280px;width:12px;height:3px;background:#2a8c2a;box-shadow:inset 0 0 0 1px #257025;"></div>
<div class="r" style="left:628px;top:260px;width:12px;height:23px;background:#2a8c2a;box-shadow:inset 0 0 0 1px #257025;"></div>
<div class="r" style="left:641px;top:281px;width:12px;height:2px;background:#257025;"></div>
<div class="r" style="left:655px;top:269px;width:12px;height:14px;background:#2a8c2a;box-shadow:inset 0 0 0 1px #257025;"></div>
<div class="r" style="left:518px;top:304px;width:12px;height:5px;background:#2a8c2a;box-shadow:inset 0 0 0 1px #257025;"></div>
<div class="r" style="left:532px;top:303px;width:12px;height:6px;background:#2a8c2a;box-shadow:inset 0 0 0 1px #257025;"></div>
<div class="r" style="left:545px;top:307px;width:12px;height:2px;background:#257025;"></div>
<div class="r" style="left:559px;top:304px;width:12px;height:5px;background:#2a8c2a;box-shadow:inset 0 0 0 1px #257025;"></div>
<div class="r" style="left:573px;top:299px;width:12px;height:10px;background:#2a8c2a;box-shadow:inset 0 0 0 1px #257025;"></div>
<div class="r" style="left:587px;top:304px;width:12px;height:5px;background:#2a8c2a;box-shadow:inset 0 0 0 1px #257025;"></div>
<div class="r" style="left:600px;top:296px;width:12px;height:13px;background:#2a8c2a;box-shadow:inset 0 0 0 1px #257025;"></div>
<div class="r" style="left:614px;top:301px;width:12px;height:8px;background:#2a8c2a;box-shadow:inset 0 0 0 1px #257025;"></div>
<div class="r" style="left:628px;top:286px;width:12px;height:23px;background:#2a8c2a;box-shadow:inset 0 0 0 1px #257025;"></div>
<div class="r" style="left:641px;top:304px;width:12px;height:5px;background:#2a8c2a;box-shadow:inset 0 0 0 1px #257025;"></div>
<div class="r" style="left:655px;top:288px;width:12px;height:21px;background:#2a8c2a;box-shadow:inset 0 0 0 1px #257025;"></div>
<div class="r" style="left:518px;top:325px;width:12px;height:1px;background:#b25050;"></div>
<div class="r" style="left:532px;top:324px;width:12px;height:1px;background:#257025;"></div>
<div class="r" style="left:545px;top:313px;width:12px;height:12px;background:#2a8c2a;box-shadow:inset 0 0 0 1px #257025;"></div>
<div class="r" style="left:559px;top:312px;width:12px;height:13px;background:#2a8c2a;box-shadow:inset 0 0 0 1px #257025;"></div>
<div class="r" style="left:573px;top:312px;width:12px;height:13px;background:#2a8c2a;box-shadow:inset 0 0 0 1px #257025;"></div>
<div class="r" style="left:628px;top:325px;width:12px;height:9px;background:#d65c5c;box-shadow:inset 0 0 0 1px #b25050;"></div>
<div class="r" style="left:641px;top:325px;width:12px;height:10px;background:#d65c5c;box-shadow:inset 0 0 0 1px #b25050;"></div>
<div class="r" style="left:655px;top:325px;width:12px;height:10px;background:#d65c5c;box-shadow:inset 0 0 0 1px #b25050;"></div>
<div class="r" style="left:518px;top:358px;width:12px;height:3px;background:#2a8c2a;box-shadow:inset 0 0 0 1px #257025;"></div>
<div class="r" style="left:532px;top:355px;width:12px;height:6px;background:#2a8c2a;box-shadow:inset 0 0 0 1px #257025;"></div>
<div class="r" style="left:545px;top:359px;width:12px;height:2px;background:#257025;"></div>
<div class="r" style="left:559px;top:355px;width:12px;height:6px;background:#2a8c2a;box-shadow:inset 0 0 0 1px #257025;"></div>
<div class="r" style="left:573px;top:351px;width:12px;height:10px;background:#2a8c2a;box-shadow:inset 0 0 0 1px #257025;"></div>
<div class="r" style="left:587px;top:357px;width:12px;height:4px;background:#2a8c2a;box-shadow:inset 0 0 0 1px #257025;"></div>
<div class="r" style="left:600px;top:348px;width:12px;height:13px;background:#2a8c2a;box-shadow:inset 0 0 0 1px #257025;"></div>
<div class="r" style="left:614px;top:354px;width:12px;height:7px;background:#2a8c2a;box-shadow:inset 0 0 0 1px #257025;"></div>
<div class="r" style="left:628px;top:338px;width:12px;height:23px;background:#2a8c2a;box-shadow:inset 0 0 0 1px #257025;"></div>
<div class="r" style="left:641px;top:358px;width:12px;height:3px;background:#2a8c2a;box-shadow:inset 0 0 0 1px #257025;"></div>
<div class="r" style="left:655px;top:340px;width:12px;height:21px;background:#2a8c2a;box-shadow:inset 0 0 0 1px #257025;"></div>
<div class="r" style="left:518px;top:364px;width:12px;height:15px;background:#d65c5c;box-shadow:inset 0 0 0 1px #b25050;"></div>
<div class="r" style="left:532px;top:364px;width:12px;height:23px;background:#d65c5c;box-shadow:inset 0 0 0 1px #b25050;"></div>
<div class="r" style="left:628px;top:364px;width:12px;height:3px;background:#d65c5c;box-shadow:inset 0 0 0 1px #b25050;"></div>
<div class="r" style="left:641px;top:364px;width:12px;height:2px;background:#b25050;"></div>
<div class="r" style="left:655px;top:364px;width:12px;height:2px;background:#b25050;"></div>
<div class="r" style="left:518px;top:410px;width:12px;height:3px;background:#2a8c2a;box-shadow:inset 0 0 0 1px #257025;"></div>
<div class="r" style="left:532px;top:411px;width:12px;height:2px;background:#257025;"></div>
<div class="r" style="left:545px;top:404px;width:12px;height:9px;background:#2a8c2a;box-shadow:inset 0 0 0 1px #257025;"></div>
<div class="r" style="left:559px;top:401px;width:12px;height:12px;background:#2a8c2a;box-shadow:inset 0 0 0 1px #257025;"></div>
<div class="r" style="left:573px;top:397px;width:12px;height:16px;background:#2a8c2a;box-shadow:inset 0 0 0 1px #257025;"></div>
<div class="r" style="left:587px;top:403px;width:12px;height:10px;background:#2a8c2a;box-shadow:inset 0 0 0 1px #257025;"></div>
<div class="r" style="left:600px;top:395px;width:12px;height:18px;background:#2a8c2a;box-shadow:inset 0 0 0 1px #257025;"></div>
<div class="r" style="left:614px;top:400px;width:12px;height:13px;background:#2a8c2a;box-shadow:inset 0 0 0 1px #257025;"></div>
<div class="r" style="left:628px;top:390px;width:12px;height:23px;background:#2a8c2a;box-shadow:inset 0 0 0 1px #257025;"></div>
<div class="r" style="left:641px;top:406px;width:12px;height:7px;background:#2a8c2a;box-shadow:inset 0 0 0 1px #257025;"></div>
<div class="r" style="left:655px;top:392px;width:12px;height:21px;background:#2a8c2a;box-shadow:inset 0 0 0 1px #257025;"></div>
<div class="r" style="left:518px;top:445px;width:12px;height:13px;background:#2a8c2a;box-shadow:inset 0 0 0 1px #257025;"></div>
<div class="r" style="left:532px;top:447px;width:12px;height:11px;background:#2a8c2a;box-shadow:inset 0 0 0 1px #257025;"></div>
<div class="r" style="left:545px;top:442px;width:12px;height:16px;background:#2a8c2a;box-shadow:inset 0 0 0 1px #257025;"></div>
<div class="r" style="left:559px;top:448px;width:12px;height:10px;background:#2a8c2a;box-shadow:inset 0 0 0 1px #257025;"></div>
<div class="r" style="left:573px;top:458px;width:12px;height:7px;background:#d65c5c;box-shadow:inset 0 0 0 1px #b25050;"></div>
<div class="r" style="left:587px;top:453px;width:12px;height:5px;background:#2a8c2a;box-shadow:inset 0 0 0 1px #257025;"></div>
<div class="r" style="left:600px;top:453px;width:12px;height:5px;background:#2a8c2a;box-shadow:inset 0 0 0 1px #257025;"></div>
<div class="r" style="left:614px;top:454px;width:12px;height:4px;background:#2a8c2a;box-shadow:inset 0 0 0 1px #257025;"></div>
<div class="r" style="left:628px;top:455px;width:12px;height:3px;background:#2a8c2a;box-shadow:inset 0 0 0 1px #257025;"></div>
<div class="r" style="left:641px;top:457px;width:12px;height:1px;background:#257025;"></div>
<div class="r" style="left:655px;top:450px;width:12px;height:8px;background:#2a8c2a;box-shadow:inset 0 0 0 1px #257025;"></div>
<div class="r" style="left:905px;top:77px;width:21px;height:21px;background:#e6e6e6;"></div>
<div class="r" style="left:905px;top:98px;width:21px;height:57px;background:#ffffff;box-shadow:inset 1px 0 0 #e0e0e0;"></div>
<div class="r" style="left:905px;top:155px;width:21px;height:301px;background:#f0f0f0;"></div>
<div class="r" style="left:905px;top:456px;width:21px;height:38px;background:#ffffff;box-shadow:inset 1px 0 0 #e0e0e0;"></div>
<div class="r" style="left:905px;top:494px;width:21px;height:21px;background:#e6e6e6;"></div>
<svg class="r" style="left:909.5px;top:81.5px" width="12" height="12" viewBox="909.5 81.5 12 12"><path d="M911.9,89.7 L915.5,86.1 L919.1,89.7" stroke="#6a6a6a" stroke-width="1.8" fill="none"/></svg>
<svg class="r" style="left:909.5px;top:498.5px" width="12" height="12" viewBox="909.5 498.5 12 12"><path d="M911.9,502.3 L915.5,505.9 L919.1,502.3" stroke="#6a6a6a" stroke-width="1.8" fill="none"/></svg>
<div class="t" style="left:938.50px;top:9.10px;width:600px;font-size:14px;line-height:19px;font-weight:normal;color:#444;text-align:left;letter-spacing:-0.22px;">Kunde 2023, DB IV, FIBU  |  2023, DB IV, FIBU</div>
<svg class="r" style="left:1810px;top:14px" width="9" height="7" viewBox="0 0 9 7"><rect x="0.5" y="0.5" width="8" height="6" fill="none" stroke="#555" stroke-width="1"/><rect x="0" y="0" width="9" height="2" fill="#555"/></svg>
<svg class="r" style="left:1831px;top:14px" width="10" height="8" viewBox="0 0 10 8"><path d="M0.6,0.4 L9,6.6 M9,0.4 L0.6,6.6" stroke="#505050" stroke-width="1.45" fill="none"/></svg>
<div class="t" style="left:612.00px;top:35.10px;width:600px;font-size:14px;line-height:19px;font-weight:bold;color:#505050;text-align:right;letter-spacing:-0.2px;margin-left:-0.2px;">IST</div>
<div class="t" style="left:612.00px;top:54.10px;width:600px;font-size:14px;line-height:19px;font-weight:bold;color:#505050;text-align:right;letter-spacing:-0.2px;margin-left:-0.2px;">Alle</div>
<div class="t" style="left:696.00px;top:35.10px;width:600px;font-size:14px;line-height:19px;font-weight:bold;color:#505050;text-align:right;letter-spacing:-0.2px;margin-left:-0.2px;">PLAN</div>
<div class="t" style="left:696.00px;top:54.10px;width:600px;font-size:14px;line-height:19px;font-weight:bold;color:#505050;text-align:right;letter-spacing:-0.2px;margin-left:-0.2px;">Alle</div>
<div class="t" style="left:780.00px;top:35.10px;width:600px;font-size:14px;line-height:19px;font-weight:bold;color:#505050;text-align:right;letter-spacing:-0.2px;margin-left:-0.2px;">IST - PLAN</div>
<div class="t" style="left:780.00px;top:54.10px;width:600px;font-size:14px;line-height:19px;font-weight:bold;color:#505050;text-align:right;letter-spacing:-0.2px;margin-left:-0.2px;">Abw. %</div>
<div class="t" style="left:865.00px;top:35.10px;width:600px;font-size:14px;line-height:19px;font-weight:bold;color:#505050;text-align:right;letter-spacing:-0.2px;margin-left:-0.2px;">IST VJ</div>
<div class="t" style="left:865.00px;top:54.10px;width:600px;font-size:14px;line-height:19px;font-weight:bold;color:#505050;text-align:right;letter-spacing:-0.2px;margin-left:-0.2px;">2022</div>
<div class="t" style="left:950.00px;top:35.10px;width:600px;font-size:14px;line-height:19px;font-weight:bold;color:#505050;text-align:right;letter-spacing:-0.2px;margin-left:-0.2px;">IST - IST VJ</div>
<div class="t" style="left:950.00px;top:54.10px;width:600px;font-size:14px;line-height:19px;font-weight:bold;color:#505050;text-align:right;letter-spacing:-0.2px;margin-left:-0.2px;">Abw. %</div>
<div class="r" style="left:934px;top:76px;width:195px;height:1px;background:#b8b8b8;"></div>
<div class="r" style="left:1131px;top:72px;width:85px;height:5px;background:#0b6087;"></div>
<div class="r" style="left:1216px;top:72px;width:85px;height:5px;background:#ea8c15;"></div>
<div class="r" style="left:1301px;top:72px;width:85px;height:5px;background:#f6b75c;"></div>
<div class="r" style="left:1386px;top:72px;width:85px;height:5px;background:#a9a9a9;"></div>
<div class="r" style="left:1470px;top:72px;width:85px;height:5px;background:#dedede;"></div>
<div class="r" style="left:934px;top:102px;width:195px;height:1px;background:#cecece;"></div>
<div class="r" style="left:1131px;top:102px;width:424px;height:1px;background:#cecece;"></div>
<div class="t" style="left:939.20px;top:79.77px;width:600px;font-size:13.5px;line-height:18px;font-weight:normal;color:#383838;text-align:left;letter-spacing:0.013px;">Summe Kd.-Grp.</div>
<div class="t" style="left:612.00px;top:79.25px;width:600px;font-size:15px;line-height:20px;font-weight:bold;color:#303030;text-align:right;letter-spacing:0.3px;margin-left:0.3px;">-2.183.363</div>
<div class="t" style="left:697.00px;top:79.25px;width:600px;font-size:15px;line-height:20px;font-weight:bold;color:#303030;text-align:right;letter-spacing:0.3px;margin-left:0.3px;">-3.463.073</div>
<svg class="r" style="left:1307px;top:80.8px" width="17" height="18" viewBox="0 0 17 18"><path d="M8.4,0 L16.7,7.8 L10.8,7.8 L10.8,17.2 L6,17.2 L6,7.8 L0,7.8 Z" fill="#6ea596"/></svg>
<div class="t" style="left:781.50px;top:79.77px;width:600px;font-size:13.5px;line-height:18px;font-weight:normal;color:#383838;text-align:right;letter-spacing:0.15px;margin-left:0.15px;">37,0%</div>
<div class="t" style="left:866.00px;top:79.25px;width:600px;font-size:15px;line-height:20px;font-weight:bold;color:#303030;text-align:right;letter-spacing:0.3px;margin-left:0.3px;">-3.747.240</div>
<div class="r" style="left:934px;top:128px;width:195px;height:1px;background:#cecece;"></div>
<div class="r" style="left:1131px;top:128px;width:424px;height:1px;background:#cecece;"></div>
<div class="t" style="left:955.00px;top:105.77px;width:600px;font-size:13.5px;line-height:18px;font-weight:normal;color:#383838;text-align:left;letter-spacing:0.605px;">*N/A *N/A</div>
<div class="t" style="left:612.00px;top:105.25px;width:600px;font-size:15px;line-height:20px;font-weight:bold;color:#303030;text-align:right;letter-spacing:0.3px;margin-left:0.3px;">-19.384</div>
<div class="t" style="left:697.00px;top:105.25px;width:600px;font-size:15px;line-height:20px;font-weight:bold;color:#303030;text-align:right;letter-spacing:0.3px;margin-left:0.3px;">24.050</div>
<svg class="r" style="left:1307px;top:106.6px" width="17" height="18" viewBox="0 0 17 18"><path d="M6,0 L10.8,0 L10.8,8.9 L16.7,8.9 L8.4,16.8 L0,8.9 L6,8.9 Z" fill="#df5a3d"/></svg>
<div class="t" style="left:781.50px;top:105.77px;width:600px;font-size:13.5px;line-height:18px;font-weight:normal;color:#383838;text-align:right;letter-spacing:0.15px;margin-left:0.15px;">-180,6%</div>
<div class="t" style="left:866.00px;top:105.25px;width:600px;font-size:15px;line-height:20px;font-weight:bold;color:#303030;text-align:right;letter-spacing:0.3px;margin-left:0.3px;">-39.776</div>
<svg class="r" style="left:1476px;top:106.8px" width="17" height="18" viewBox="0 0 17 18"><path d="M8.4,0 L16.7,7.8 L10.8,7.8 L10.8,17.2 L6,17.2 L6,7.8 L0,7.8 Z" fill="#6ea596"/></svg>
<div class="t" style="left:951.50px;top:105.25px;width:600px;font-size:15px;line-height:20px;font-weight:bold;color:#303030;text-align:right;letter-spacing:0.3px;margin-left:0.3px;">289,8%</div>
<div class="r" style="left:934px;top:154px;width:195px;height:1px;background:#cecece;"></div>
<div class="r" style="left:1131px;top:154px;width:424px;height:1px;background:#cecece;"></div>
<div class="t" style="left:955.00px;top:131.77px;width:600px;font-size:13.5px;line-height:18px;font-weight:normal;color:#383838;text-align:left;letter-spacing:0.186px;">01 Gastronomie frei</div>
<div class="t" style="left:612.00px;top:131.25px;width:600px;font-size:15px;line-height:20px;font-weight:bold;color:#303030;text-align:right;letter-spacing:0.3px;margin-left:0.3px;">-889.615</div>
<div class="t" style="left:697.00px;top:131.25px;width:600px;font-size:15px;line-height:20px;font-weight:bold;color:#303030;text-align:right;letter-spacing:0.3px;margin-left:0.3px;">-1.476.887</div>
<svg class="r" style="left:1307px;top:132.8px" width="17" height="18" viewBox="0 0 17 18"><path d="M8.4,0 L16.7,7.8 L10.8,7.8 L10.8,17.2 L6,17.2 L6,7.8 L0,7.8 Z" fill="#6ea596"/></svg>
<div class="t" style="left:781.50px;top:131.77px;width:600px;font-size:13.5px;line-height:18px;font-weight:normal;color:#383838;text-align:right;letter-spacing:0.15px;margin-left:0.15px;">39,8%</div>
<div class="t" style="left:866.00px;top:131.25px;width:600px;font-size:15px;line-height:20px;font-weight:bold;color:#303030;text-align:right;letter-spacing:0.3px;margin-left:0.3px;">-1.546.575</div>
<div class="r" style="left:934px;top:180px;width:195px;height:1px;background:#cecece;"></div>
<div class="r" style="left:1131px;top:180px;width:424px;height:1px;background:#cecece;"></div>
<div class="t" style="left:955.00px;top:157.77px;width:600px;font-size:13.5px;line-height:18px;font-weight:normal;color:#383838;text-align:left;letter-spacing:0.203px;">02 Gastronomie verpflichtet</div>
<div class="t" style="left:612.00px;top:157.25px;width:600px;font-size:15px;line-height:20px;font-weight:bold;color:#303030;text-align:right;letter-spacing:0.3px;margin-left:0.3px;">-197.129</div>
<div class="t" style="left:697.00px;top:157.25px;width:600px;font-size:15px;line-height:20px;font-weight:bold;color:#303030;text-align:right;letter-spacing:0.3px;margin-left:0.3px;">-442.778</div>
<svg class="r" style="left:1307px;top:158.8px" width="17" height="18" viewBox="0 0 17 18"><path d="M8.4,0 L16.7,7.8 L10.8,7.8 L10.8,17.2 L6,17.2 L6,7.8 L0,7.8 Z" fill="#6ea596"/></svg>
<div class="t" style="left:781.50px;top:157.77px;width:600px;font-size:13.5px;line-height:18px;font-weight:normal;color:#383838;text-align:right;letter-spacing:0.15px;margin-left:0.15px;">55,5%</div>
<div class="t" style="left:866.00px;top:157.25px;width:600px;font-size:15px;line-height:20px;font-weight:bold;color:#303030;text-align:right;letter-spacing:0.3px;margin-left:0.3px;">-465.090</div>
<div class="r" style="left:934px;top:206px;width:195px;height:1px;background:#cecece;"></div>
<div class="r" style="left:1131px;top:206px;width:424px;height:1px;background:#cecece;"></div>
<div class="t" style="left:955.00px;top:183.77px;width:600px;font-size:13.5px;line-height:18px;font-weight:normal;color:#383838;text-align:left;letter-spacing:-0.3px;">04 EINZELHANDEL</div>
<div class="t" style="left:612.00px;top:183.25px;width:600px;font-size:15px;line-height:20px;font-weight:bold;color:#303030;text-align:right;letter-spacing:0.3px;margin-left:0.3px;">-36.999</div>
<div class="t" style="left:697.00px;top:183.25px;width:600px;font-size:15px;line-height:20px;font-weight:bold;color:#303030;text-align:right;letter-spacing:0.3px;margin-left:0.3px;">-61.191</div>
<svg class="r" style="left:1307px;top:184.8px" width="17" height="18" viewBox="0 0 17 18"><path d="M8.4,0 L16.7,7.8 L10.8,7.8 L10.8,17.2 L6,17.2 L6,7.8 L0,7.8 Z" fill="#6ea596"/></svg>
<div class="t" style="left:781.50px;top:183.77px;width:600px;font-size:13.5px;line-height:18px;font-weight:normal;color:#383838;text-align:right;letter-spacing:0.15px;margin-left:0.15px;">39,5%</div>
<div class="t" style="left:866.00px;top:183.25px;width:600px;font-size:15px;line-height:20px;font-weight:bold;color:#303030;text-align:right;letter-spacing:0.3px;margin-left:0.3px;">-75.757</div>
<div class="r" style="left:934px;top:232px;width:195px;height:1px;background:#cecece;"></div>
<div class="r" style="left:1131px;top:232px;width:424px;height:1px;background:#cecece;"></div>
<div class="t" style="left:955.00px;top:209.77px;width:600px;font-size:13.5px;line-height:18px;font-weight:normal;color:#383838;text-align:left;letter-spacing:0.12px;">05 Hofverkauf, Privat</div>
<div class="t" style="left:612.00px;top:209.25px;width:600px;font-size:15px;line-height:20px;font-weight:bold;color:#303030;text-align:right;letter-spacing:0.3px;margin-left:0.3px;">-21.615</div>
<div class="t" style="left:697.00px;top:209.25px;width:600px;font-size:15px;line-height:20px;font-weight:bold;color:#303030;text-align:right;letter-spacing:0.3px;margin-left:0.3px;">21.745</div>
<svg class="r" style="left:1307px;top:210.6px" width="17" height="18" viewBox="0 0 17 18"><path d="M6,0 L10.8,0 L10.8,8.9 L16.7,8.9 L8.4,16.8 L0,8.9 L6,8.9 Z" fill="#df5a3d"/></svg>
<div class="t" style="left:781.50px;top:209.77px;width:600px;font-size:13.5px;line-height:18px;font-weight:normal;color:#383838;text-align:right;letter-spacing:0.15px;margin-left:0.15px;">-199,4%</div>
<div class="t" style="left:866.00px;top:209.25px;width:600px;font-size:15px;line-height:20px;font-weight:bold;color:#303030;text-align:right;letter-spacing:0.3px;margin-left:0.3px;">-79.669</div>
<div class="r" style="left:934px;top:258px;width:195px;height:1px;background:#cecece;"></div>
<div class="r" style="left:1131px;top:258px;width:424px;height:1px;background:#cecece;"></div>
<div class="t" style="left:955.00px;top:235.77px;width:600px;font-size:13.5px;line-height:18px;font-weight:normal;color:#383838;text-align:left;letter-spacing:-0.3px;">06 GROSSHANDEL</div>
<div class="t" style="left:612.00px;top:235.25px;width:600px;font-size:15px;line-height:20px;font-weight:bold;color:#303030;text-align:right;letter-spacing:0.3px;margin-left:0.3px;">-819.826</div>
<div class="t" style="left:697.00px;top:235.25px;width:600px;font-size:15px;line-height:20px;font-weight:bold;color:#303030;text-align:right;letter-spacing:0.3px;margin-left:0.3px;">-932.855</div>
<svg class="r" style="left:1307px;top:236.8px" width="17" height="18" viewBox="0 0 17 18"><path d="M8.4,0 L16.7,7.8 L10.8,7.8 L10.8,17.2 L6,17.2 L6,7.8 L0,7.8 Z" fill="#6ea596"/></svg>
<div class="t" style="left:781.50px;top:235.77px;width:600px;font-size:13.5px;line-height:18px;font-weight:normal;color:#383838;text-align:right;letter-spacing:0.15px;margin-left:0.15px;">12,1%</div>
<div class="t" style="left:866.00px;top:235.25px;width:600px;font-size:15px;line-height:20px;font-weight:bold;color:#303030;text-align:right;letter-spacing:0.3px;margin-left:0.3px;">-1.263.216</div>
<div class="r" style="left:934px;top:284px;width:195px;height:1px;background:#cecece;"></div>
<div class="r" style="left:1131px;top:284px;width:424px;height:1px;background:#cecece;"></div>
<div class="t" style="left:955.00px;top:261.77px;width:600px;font-size:13.5px;line-height:18px;font-weight:normal;color:#383838;text-align:left;letter-spacing:0.153px;">07 Hotellerie frei</div>
<div class="t" style="left:612.00px;top:261.25px;width:600px;font-size:15px;line-height:20px;font-weight:bold;color:#303030;text-align:right;letter-spacing:0.3px;margin-left:0.3px;">-198.794</div>
<div class="t" style="left:697.00px;top:261.25px;width:600px;font-size:15px;line-height:20px;font-weight:bold;color:#303030;text-align:right;letter-spacing:0.3px;margin-left:0.3px;">-595.157</div>
<svg class="r" style="left:1307px;top:262.8px" width="17" height="18" viewBox="0 0 17 18"><path d="M8.4,0 L16.7,7.8 L10.8,7.8 L10.8,17.2 L6,17.2 L6,7.8 L0,7.8 Z" fill="#6ea596"/></svg>
<div class="t" style="left:781.50px;top:261.77px;width:600px;font-size:13.5px;line-height:18px;font-weight:normal;color:#383838;text-align:right;letter-spacing:0.15px;margin-left:0.15px;">66,6%</div>
<div class="t" style="left:866.00px;top:261.25px;width:600px;font-size:15px;line-height:20px;font-weight:bold;color:#303030;text-align:right;letter-spacing:0.3px;margin-left:0.3px;">-277.157</div>
<div class="r" style="left:1303px;top:77px;width:1px;height:208px;background:#b8b8b8;"></div>
<div class="r" style="left:1385px;top:77px;width:1px;height:208px;background:#b8b8b8;"></div>
<div class="r" style="left:1470px;top:77px;width:1px;height:208px;background:#b8b8b8;"></div>
<div class="clip" style="left:929px;top:523px;width:923px;height:367px;">
<div style="position:absolute;left:-929px;top:-523px;width:1852px;height:892px;">
<div class="t" style="left:943.00px;top:528.10px;width:600px;font-size:14px;line-height:19px;font-weight:normal;color:#444;text-align:left;letter-spacing:-0.22px;">Artikel 2023, DB IV, FIBU  |  2023, DB IV, FIBU</div>
<svg class="r" style="left:1810px;top:533px" width="9" height="7" viewBox="0 0 9 7"><rect x="0.5" y="0.5" width="8" height="6" fill="none" stroke="#555" stroke-width="1"/><rect x="0" y="0" width="9" height="2" fill="#555"/></svg>
<svg class="r" style="left:1831px;top:533px" width="10" height="8" viewBox="0 0 10 8"><path d="M0.6,0.4 L9,6.6 M9,0.4 L0.6,6.6" stroke="#505050" stroke-width="1.45" fill="none"/></svg>
<div class="t" style="left:648.00px;top:554.10px;width:600px;font-size:14px;line-height:19px;font-weight:bold;color:#505050;text-align:right;letter-spacing:-0.2px;margin-left:-0.2px;">IST</div>
<div class="t" style="left:648.00px;top:573.10px;width:600px;font-size:14px;line-height:19px;font-weight:bold;color:#505050;text-align:right;letter-spacing:-0.2px;margin-left:-0.2px;">Alle</div>
<div class="t" style="left:732.00px;top:554.10px;width:600px;font-size:14px;line-height:19px;font-weight:bold;color:#505050;text-align:right;letter-spacing:-0.2px;margin-left:-0.2px;">PLAN</div>
<div class="t" style="left:732.00px;top:573.10px;width:600px;font-size:14px;line-height:19px;font-weight:bold;color:#505050;text-align:right;letter-spacing:-0.2px;margin-left:-0.2px;">Alle</div>
<div class="t" style="left:816.00px;top:554.10px;width:600px;font-size:14px;line-height:19px;font-weight:bold;color:#505050;text-align:right;letter-spacing:-0.2px;margin-left:-0.2px;">IST - PLAN</div>
<div class="t" style="left:816.00px;top:573.10px;width:600px;font-size:14px;line-height:19px;font-weight:bold;color:#505050;text-align:right;letter-spacing:-0.2px;margin-left:-0.2px;">Abw. %</div>
<div class="t" style="left:901.00px;top:554.10px;width:600px;font-size:14px;line-height:19px;font-weight:bold;color:#505050;text-align:right;letter-spacing:-0.2px;margin-left:-0.2px;">IST VJ</div>
<div class="t" style="left:901.00px;top:573.10px;width:600px;font-size:14px;line-height:19px;font-weight:bold;color:#505050;text-align:right;letter-spacing:-0.2px;margin-left:-0.2px;">2022</div>
<div class="t" style="left:986.00px;top:554.10px;width:600px;font-size:14px;line-height:19px;font-weight:bold;color:#505050;text-align:right;letter-spacing:-0.2px;margin-left:-0.2px;">IST - IST VJ</div>
<div class="t" style="left:986.00px;top:573.10px;width:600px;font-size:14px;line-height:19px;font-weight:bold;color:#505050;text-align:right;letter-spacing:-0.2px;margin-left:-0.2px;">Abw. %</div>
<div class="r" style="left:934px;top:595px;width:231px;height:1px;background:#b8b8b8;"></div>
<div class="r" style="left:1167px;top:591px;width:85px;height:5px;background:#0b6087;"></div>
<div class="r" style="left:1252px;top:591px;width:85px;height:5px;background:#ea8c15;"></div>
<div class="r" style="left:1337px;top:591px;width:85px;height:5px;background:#f6b75c;"></div>
<div class="r" style="left:1422px;top:591px;width:85px;height:5px;background:#a9a9a9;"></div>
<div class="r" style="left:1506px;top:591px;width:85px;height:5px;background:#dedede;"></div>
<div class="r" style="left:934px;top:621px;width:231px;height:1px;background:#cecece;"></div>
<div class="r" style="left:1167px;top:621px;width:424px;height:1px;background:#cecece;"></div>
<div class="t" style="left:939.20px;top:598.77px;width:600px;font-size:13.5px;line-height:18px;font-weight:normal;color:#383838;text-align:left;letter-spacing:-0.178px;">Summe Sortenschlüssel</div>
<div class="t" style="left:648.00px;top:598.25px;width:600px;font-size:15px;line-height:20px;font-weight:bold;color:#303030;text-align:right;letter-spacing:0.3px;margin-left:0.3px;">-2.183.363</div>
<div class="t" style="left:733.00px;top:598.25px;width:600px;font-size:15px;line-height:20px;font-weight:bold;color:#303030;text-align:right;letter-spacing:0.3px;margin-left:0.3px;">-3.463.073</div>
<svg class="r" style="left:1343px;top:599.8px" width="17" height="18" viewBox="0 0 17 18"><path d="M8.4,0 L16.7,7.8 L10.8,7.8 L10.8,17.2 L6,17.2 L6,7.8 L0,7.8 Z" fill="#6ea596"/></svg>
<div class="t" style="left:817.50px;top:598.77px;width:600px;font-size:13.5px;line-height:18px;font-weight:normal;color:#383838;text-align:right;letter-spacing:0.15px;margin-left:0.15px;">37,0%</div>
<div class="t" style="left:902.00px;top:598.25px;width:600px;font-size:15px;line-height:20px;font-weight:bold;color:#303030;text-align:right;letter-spacing:0.3px;margin-left:0.3px;">-3.747.240</div>
<div class="r" style="left:934px;top:647px;width:231px;height:1px;background:#cecece;"></div>
<div class="r" style="left:1167px;top:647px;width:424px;height:1px;background:#cecece;"></div>
<div class="t" style="left:955.00px;top:624.77px;width:600px;font-size:13.5px;line-height:18px;font-weight:normal;color:#383838;text-align:left;letter-spacing:-0.059px;">101 Faßbier</div>
<div class="t" style="left:648.00px;top:624.25px;width:600px;font-size:15px;line-height:20px;font-weight:bold;color:#303030;text-align:right;letter-spacing:0.3px;margin-left:0.3px;">-624.414</div>
<div class="t" style="left:733.00px;top:624.25px;width:600px;font-size:15px;line-height:20px;font-weight:bold;color:#303030;text-align:right;letter-spacing:0.3px;margin-left:0.3px;">-637.768</div>
<svg class="r" style="left:1343px;top:625.8px" width="17" height="18" viewBox="0 0 17 18"><path d="M8.4,0 L16.7,7.8 L10.8,7.8 L10.8,17.2 L6,17.2 L6,7.8 L0,7.8 Z" fill="#6ea596"/></svg>
<div class="t" style="left:817.50px;top:624.77px;width:600px;font-size:13.5px;line-height:18px;font-weight:normal;color:#383838;text-align:right;letter-spacing:0.15px;margin-left:0.15px;">2,1%</div>
<div class="t" style="left:902.00px;top:624.25px;width:600px;font-size:15px;line-height:20px;font-weight:bold;color:#303030;text-align:right;letter-spacing:0.3px;margin-left:0.3px;">-781.485</div>
<div class="r" style="left:934px;top:673px;width:231px;height:1px;background:#cecece;"></div>
<div class="r" style="left:1167px;top:673px;width:424px;height:1px;background:#cecece;"></div>
<div class="t" style="left:955.00px;top:650.77px;width:600px;font-size:13.5px;line-height:18px;font-weight:normal;color:#383838;text-align:left;letter-spacing:-0.091px;">102 Flaschenbier</div>
<div class="t" style="left:648.00px;top:650.25px;width:600px;font-size:15px;line-height:20px;font-weight:bold;color:#303030;text-align:right;letter-spacing:0.3px;margin-left:0.3px;">-808.574</div>
<div class="t" style="left:733.00px;top:650.25px;width:600px;font-size:15px;line-height:20px;font-weight:bold;color:#303030;text-align:right;letter-spacing:0.3px;margin-left:0.3px;">-998.932</div>
<svg class="r" style="left:1343px;top:651.8px" width="17" height="18" viewBox="0 0 17 18"><path d="M8.4,0 L16.7,7.8 L10.8,7.8 L10.8,17.2 L6,17.2 L6,7.8 L0,7.8 Z" fill="#6ea596"/></svg>
<div class="t" style="left:817.50px;top:650.77px;width:600px;font-size:13.5px;line-height:18px;font-weight:normal;color:#383838;text-align:right;letter-spacing:0.15px;margin-left:0.15px;">19,1%</div>
<div class="t" style="left:902.00px;top:650.25px;width:600px;font-size:15px;line-height:20px;font-weight:bold;color:#303030;text-align:right;letter-spacing:0.3px;margin-left:0.3px;">-819.143</div>
<div class="r" style="left:934px;top:699px;width:231px;height:1px;background:#cecece;"></div>
<div class="r" style="left:1167px;top:699px;width:424px;height:1px;background:#cecece;"></div>
<div class="t" style="left:955.00px;top:676.77px;width:600px;font-size:13.5px;line-height:18px;font-weight:normal;color:#383838;text-align:left;letter-spacing:0.075px;">201 Mineralwasser</div>
<div class="t" style="left:648.00px;top:676.25px;width:600px;font-size:15px;line-height:20px;font-weight:bold;color:#303030;text-align:right;letter-spacing:0.3px;margin-left:0.3px;">-377.082</div>
<div class="t" style="left:733.00px;top:676.25px;width:600px;font-size:15px;line-height:20px;font-weight:bold;color:#303030;text-align:right;letter-spacing:0.3px;margin-left:0.3px;">-1.286.819</div>
<svg class="r" style="left:1343px;top:677.8px" width="17" height="18" viewBox="0 0 17 18"><path d="M8.4,0 L16.7,7.8 L10.8,7.8 L10.8,17.2 L6,17.2 L6,7.8 L0,7.8 Z" fill="#6ea596"/></svg>
<div class="t" style="left:817.50px;top:676.77px;width:600px;font-size:13.5px;line-height:18px;font-weight:normal;color:#383838;text-align:right;letter-spacing:0.15px;margin-left:0.15px;">70,7%</div>
<div class="t" style="left:902.00px;top:676.25px;width:600px;font-size:15px;line-height:20px;font-weight:bold;color:#303030;text-align:right;letter-spacing:0.3px;margin-left:0.3px;">-324.254</div>
<div class="r" style="left:934px;top:725px;width:231px;height:1px;background:#cecece;"></div>
<div class="r" style="left:1167px;top:725px;width:424px;height:1px;background:#cecece;"></div>
<div class="t" style="left:955.00px;top:702.77px;width:600px;font-size:13.5px;line-height:18px;font-weight:normal;color:#383838;text-align:left;letter-spacing:0.158px;">202 Fruchtsäfte</div>
<div class="t" style="left:648.00px;top:702.25px;width:600px;font-size:15px;line-height:20px;font-weight:bold;color:#303030;text-align:right;letter-spacing:0.3px;margin-left:0.3px;">-190.866</div>
<div class="t" style="left:733.00px;top:702.25px;width:600px;font-size:15px;line-height:20px;font-weight:bold;color:#303030;text-align:right;letter-spacing:0.3px;margin-left:0.3px;">-268.771</div>
<svg class="r" style="left:1343px;top:703.8px" width="17" height="18" viewBox="0 0 17 18"><path d="M8.4,0 L16.7,7.8 L10.8,7.8 L10.8,17.2 L6,17.2 L6,7.8 L0,7.8 Z" fill="#6ea596"/></svg>
<div class="t" style="left:817.50px;top:702.77px;width:600px;font-size:13.5px;line-height:18px;font-weight:normal;color:#383838;text-align:right;letter-spacing:0.15px;margin-left:0.15px;">29,0%</div>
<div class="t" style="left:902.00px;top:702.25px;width:600px;font-size:15px;line-height:20px;font-weight:bold;color:#303030;text-align:right;letter-spacing:0.3px;margin-left:0.3px;">-188.183</div>
<div class="r" style="left:934px;top:751px;width:231px;height:1px;background:#cecece;"></div>
<div class="r" style="left:1167px;top:751px;width:424px;height:1px;background:#cecece;"></div>
<div class="t" style="left:955.00px;top:728.77px;width:600px;font-size:13.5px;line-height:18px;font-weight:normal;color:#383838;text-align:left;letter-spacing:0.01px;">203 Cola</div>
<div class="t" style="left:648.00px;top:728.25px;width:600px;font-size:15px;line-height:20px;font-weight:bold;color:#303030;text-align:right;letter-spacing:0.3px;margin-left:0.3px;">-83.192</div>
<div class="t" style="left:733.00px;top:728.25px;width:600px;font-size:15px;line-height:20px;font-weight:bold;color:#303030;text-align:right;letter-spacing:0.3px;margin-left:0.3px;">-175.460</div>
<svg class="r" style="left:1343px;top:729.8px" width="17" height="18" viewBox="0 0 17 18"><path d="M8.4,0 L16.7,7.8 L10.8,7.8 L10.8,17.2 L6,17.2 L6,7.8 L0,7.8 Z" fill="#6ea596"/></svg>
<div class="t" style="left:817.50px;top:728.77px;width:600px;font-size:13.5px;line-height:18px;font-weight:normal;color:#383838;text-align:right;letter-spacing:0.15px;margin-left:0.15px;">52,6%</div>
<div class="t" style="left:902.00px;top:728.25px;width:600px;font-size:15px;line-height:20px;font-weight:bold;color:#303030;text-align:right;letter-spacing:0.3px;margin-left:0.3px;">-74.357</div>
<div class="r" style="left:934px;top:777px;width:231px;height:1px;background:#cecece;"></div>
<div class="r" style="left:1167px;top:777px;width:424px;height:1px;background:#cecece;"></div>
<div class="t" style="left:955.00px;top:754.77px;width:600px;font-size:13.5px;line-height:18px;font-weight:normal;color:#383838;text-align:left;letter-spacing:0.036px;">204 sonstige AFG</div>
<div class="t" style="left:648.00px;top:754.25px;width:600px;font-size:15px;line-height:20px;font-weight:bold;color:#303030;text-align:right;letter-spacing:0.3px;margin-left:0.3px;">-59.145</div>
<div class="t" style="left:733.00px;top:754.25px;width:600px;font-size:15px;line-height:20px;font-weight:bold;color:#303030;text-align:right;letter-spacing:0.3px;margin-left:0.3px;">-92.311</div>
<svg class="r" style="left:1343px;top:755.8px" width="17" height="18" viewBox="0 0 17 18"><path d="M8.4,0 L16.7,7.8 L10.8,7.8 L10.8,17.2 L6,17.2 L6,7.8 L0,7.8 Z" fill="#6ea596"/></svg>
<div class="t" style="left:817.50px;top:754.77px;width:600px;font-size:13.5px;line-height:18px;font-weight:normal;color:#383838;text-align:right;letter-spacing:0.15px;margin-left:0.15px;">35,9%</div>
<div class="t" style="left:902.00px;top:754.25px;width:600px;font-size:15px;line-height:20px;font-weight:bold;color:#303030;text-align:right;letter-spacing:0.3px;margin-left:0.3px;">-52.335</div>
<div class="r" style="left:934px;top:803px;width:231px;height:1px;background:#cecece;"></div>
<div class="r" style="left:1167px;top:803px;width:424px;height:1px;background:#cecece;"></div>
<div class="t" style="left:955.00px;top:780.77px;width:600px;font-size:13.5px;line-height:18px;font-weight:normal;color:#383838;text-align:left;letter-spacing:0.162px;">300 Spirituose</div>
<div class="t" style="left:648.00px;top:780.25px;width:600px;font-size:15px;line-height:20px;font-weight:bold;color:#303030;text-align:right;letter-spacing:0.3px;margin-left:0.3px;">-9.280</div>
<div class="t" style="left:733.00px;top:780.25px;width:600px;font-size:15px;line-height:20px;font-weight:bold;color:#303030;text-align:right;letter-spacing:0.3px;margin-left:0.3px;">7.951</div>
<svg class="r" style="left:1343px;top:781.6px" width="17" height="18" viewBox="0 0 17 18"><path d="M6,0 L10.8,0 L10.8,8.9 L16.7,8.9 L8.4,16.8 L0,8.9 L6,8.9 Z" fill="#df5a3d"/></svg>
<div class="t" style="left:817.50px;top:780.77px;width:600px;font-size:13.5px;line-height:18px;font-weight:normal;color:#383838;text-align:right;letter-spacing:0.15px;margin-left:0.15px;">-216,7%</div>
<div class="t" style="left:902.00px;top:780.25px;width:600px;font-size:15px;line-height:20px;font-weight:bold;color:#303030;text-align:right;letter-spacing:0.3px;margin-left:0.3px;">-8.862</div>
<div class="r" style="left:934px;top:829px;width:231px;height:1px;background:#cecece;"></div>
<div class="r" style="left:1167px;top:829px;width:424px;height:1px;background:#cecece;"></div>
<div class="t" style="left:955.00px;top:806.77px;width:600px;font-size:13.5px;line-height:18px;font-weight:normal;color:#383838;text-align:left;letter-spacing:0.203px;">400 Wein &amp; Sekt</div>
<div class="t" style="left:648.00px;top:806.25px;width:600px;font-size:15px;line-height:20px;font-weight:bold;color:#303030;text-align:right;letter-spacing:0.3px;margin-left:0.3px;">-5.648</div>
<div class="t" style="left:733.00px;top:806.25px;width:600px;font-size:15px;line-height:20px;font-weight:bold;color:#303030;text-align:right;letter-spacing:0.3px;margin-left:0.3px;">4.826</div>
<svg class="r" style="left:1343px;top:807.6px" width="17" height="18" viewBox="0 0 17 18"><path d="M6,0 L10.8,0 L10.8,8.9 L16.7,8.9 L8.4,16.8 L0,8.9 L6,8.9 Z" fill="#df5a3d"/></svg>
<div class="t" style="left:817.50px;top:806.77px;width:600px;font-size:13.5px;line-height:18px;font-weight:normal;color:#383838;text-align:right;letter-spacing:0.15px;margin-left:0.15px;">-217,0%</div>
<div class="t" style="left:902.00px;top:806.25px;width:600px;font-size:15px;line-height:20px;font-weight:bold;color:#303030;text-align:right;letter-spacing:0.3px;margin-left:0.3px;">-6.019</div>
<div class="r" style="left:934px;top:855px;width:231px;height:1px;background:#cecece;"></div>
<div class="r" style="left:1167px;top:855px;width:424px;height:1px;background:#cecece;"></div>
<div class="t" style="left:955.00px;top:832.77px;width:600px;font-size:13.5px;line-height:18px;font-weight:normal;color:#383838;text-align:left;letter-spacing:0.225px;">600 Gläser &amp; Werbemittel</div>
<div class="t" style="left:648.00px;top:832.25px;width:600px;font-size:15px;line-height:20px;font-weight:bold;color:#303030;text-align:right;letter-spacing:0.3px;margin-left:0.3px;">-8.209</div>
<div class="t" style="left:733.00px;top:832.25px;width:600px;font-size:15px;line-height:20px;font-weight:bold;color:#303030;text-align:right;letter-spacing:0.3px;margin-left:0.3px;">-1.889</div>
<svg class="r" style="left:1343px;top:833.6px" width="17" height="18" viewBox="0 0 17 18"><path d="M6,0 L10.8,0 L10.8,8.9 L16.7,8.9 L8.4,16.8 L0,8.9 L6,8.9 Z" fill="#df5a3d"/></svg>
<div class="t" style="left:817.50px;top:832.77px;width:600px;font-size:13.5px;line-height:18px;font-weight:normal;color:#383838;text-align:right;letter-spacing:0.15px;margin-left:0.15px;">-334,5%</div>
<div class="t" style="left:902.00px;top:832.25px;width:600px;font-size:15px;line-height:20px;font-weight:bold;color:#303030;text-align:right;letter-spacing:0.3px;margin-left:0.3px;">-11.230</div>
<svg class="r" style="left:1512px;top:833.8px" width="17" height="18" viewBox="0 0 17 18"><path d="M8.4,0 L16.7,7.8 L10.8,7.8 L10.8,17.2 L6,17.2 L6,7.8 L0,7.8 Z" fill="#6ea596"/></svg>
<div class="t" style="left:987.50px;top:832.25px;width:600px;font-size:15px;line-height:20px;font-weight:bold;color:#303030;text-align:right;letter-spacing:0.3px;margin-left:0.3px;">75,4%</div>
<div class="r" style="left:934px;top:881px;width:231px;height:1px;background:#cecece;"></div>
<div class="r" style="left:1167px;top:881px;width:424px;height:1px;background:#cecece;"></div>
<div class="t" style="left:955.00px;top:858.77px;width:600px;font-size:13.5px;line-height:18px;font-weight:normal;color:#383838;text-align:left;letter-spacing:0.158px;">700 Leihinventar</div>
<div class="t" style="left:648.00px;top:858.25px;width:600px;font-size:15px;line-height:20px;font-weight:bold;color:#303030;text-align:right;letter-spacing:0.3px;margin-left:0.3px;">-64</div>
<div class="t" style="left:902.00px;top:858.25px;width:600px;font-size:15px;line-height:20px;font-weight:bold;color:#303030;text-align:right;letter-spacing:0.3px;margin-left:0.3px;">-61</div>
<svg class="r" style="left:1512px;top:859.6px" width="17" height="18" viewBox="0 0 17 18"><path d="M6,0 L10.8,0 L10.8,8.9 L16.7,8.9 L8.4,16.8 L0,8.9 L6,8.9 Z" fill="#df5a3d"/></svg>
<div class="t" style="left:987.50px;top:858.25px;width:600px;font-size:15px;line-height:20px;font-weight:bold;color:#303030;text-align:right;letter-spacing:0.3px;margin-left:0.3px;">-6,4%</div>
<div class="r" style="left:934px;top:907px;width:231px;height:1px;background:#cecece;"></div>
<div class="r" style="left:1167px;top:907px;width:424px;height:1px;background:#cecece;"></div>
<div class="t" style="left:955.00px;top:884.77px;width:600px;font-size:13.5px;line-height:18px;font-weight:normal;color:#383838;text-align:left;letter-spacing:0.1px;">800 Sonstiges &amp; Einwegleihgut</div>
<svg class="r" style="left:1512px;top:885.6px" width="17" height="18" viewBox="0 0 17 18"><path d="M6,0 L10.8,0 L10.8,8.9 L16.7,8.9 L8.4,16.8 L0,8.9 L6,8.9 Z" fill="#df5a3d"/></svg>
<div class="r" style="left:1339px;top:596px;width:1px;height:312px;background:#b8b8b8;"></div>
<div class="r" style="left:1421px;top:596px;width:1px;height:312px;background:#b8b8b8;"></div>
<div class="r" style="left:1506px;top:596px;width:1px;height:312px;background:#b8b8b8;"></div>
</div></div>
<div class="r" style="left:1837px;top:596px;width:15px;height:21px;background:#e6e6e6;"></div>
<div class="r" style="left:1837px;top:617px;width:15px;height:197px;background:#f0f0f0;"></div>
<div class="r" style="left:1837px;top:814px;width:15px;height:54px;background:#ffffff;box-shadow:inset 1px 0 0 #e0e0e0;"></div>
<div class="r" style="left:1837px;top:868px;width:15px;height:21px;background:#e6e6e6;"></div>
<svg class="r" style="left:1841.5px;top:600.5px" width="12" height="12" viewBox="1841.5 600.5 12 12"><path d="M1843.9,608.7 L1847.5,605.1 L1851.1,608.7" stroke="#6a6a6a" stroke-width="1.8" fill="none"/></svg>
<svg class="r" style="left:1841.5px;top:872.5px" width="12" height="12" viewBox="1841.5 872.5 12 12"><path d="M1843.9,876.3 L1847.5,879.9 L1851.1,876.3" stroke="#6a6a6a" stroke-width="1.8" fill="none"/></svg>
<div class="t" style="left:7.50px;top:528.10px;width:600px;font-size:14px;line-height:19px;font-weight:normal;color:#444;text-align:left;letter-spacing:-0.05px;">DB Plan - Ist Detail Wasserfall 2023  |  2023</div>
<svg class="r" style="left:878px;top:533px" width="9" height="7" viewBox="0 0 9 7"><rect x="0.5" y="0.5" width="8" height="6" fill="none" stroke="#555" stroke-width="1"/><rect x="0" y="0" width="9" height="2" fill="#555"/></svg>
<svg class="r" style="left:899px;top:533px" width="10" height="8" viewBox="0 0 10 8"><path d="M0.6,0.4 L9,6.6 M9,0.4 L0.6,6.6" stroke="#505050" stroke-width="1.45" fill="none"/></svg>
<div class="r" style="left:114px;top:601px;width:800px;height:1px;background:#cfcfcf;"></div>
<div class="r" style="left:109px;top:601px;width:5px;height:1px;background:#a0a0a0;"></div>
<div class="t" style="left:-500.00px;top:590.06px;width:600px;font-size:17px;line-height:23px;font-weight:normal;color:#404040;text-align:right;letter-spacing:0.25px;margin-left:0.25px;">3.000.000</div>
<div class="r" style="left:114px;top:642px;width:800px;height:1px;background:#cfcfcf;"></div>
<div class="r" style="left:109px;top:642px;width:5px;height:1px;background:#a0a0a0;"></div>
<div class="t" style="left:-500.00px;top:631.06px;width:600px;font-size:17px;line-height:23px;font-weight:normal;color:#404040;text-align:right;letter-spacing:0.25px;margin-left:0.25px;">2.000.000</div>
<div class="r" style="left:114px;top:684px;width:800px;height:1px;background:#cfcfcf;"></div>
<div class="r" style="left:109px;top:684px;width:5px;height:1px;background:#a0a0a0;"></div>
<div class="t" style="left:-500.00px;top:673.06px;width:600px;font-size:17px;line-height:23px;font-weight:normal;color:#404040;text-align:right;letter-spacing:0.25px;margin-left:0.25px;">1.000.000</div>
<div class="r" style="left:114px;top:726px;width:800px;height:1px;background:#cfcfcf;"></div>
<div class="r" style="left:109px;top:726px;width:5px;height:1px;background:#a0a0a0;"></div>
<div class="t" style="left:-500.00px;top:715.06px;width:600px;font-size:17px;line-height:23px;font-weight:normal;color:#404040;text-align:right;letter-spacing:0.25px;margin-left:0.25px;">0</div>
<div class="r" style="left:114px;top:767px;width:800px;height:1px;background:#cfcfcf;"></div>
<div class="r" style="left:109px;top:767px;width:5px;height:1px;background:#a0a0a0;"></div>
<div class="t" style="left:-500.00px;top:756.06px;width:600px;font-size:17px;line-height:23px;font-weight:normal;color:#404040;text-align:right;letter-spacing:0.25px;margin-left:0.25px;">-1.000.000</div>
<div class="r" style="left:114px;top:809px;width:800px;height:1px;background:#cfcfcf;"></div>
<div class="r" style="left:109px;top:809px;width:5px;height:1px;background:#a0a0a0;"></div>
<div class="t" style="left:-500.00px;top:798.06px;width:600px;font-size:17px;line-height:23px;font-weight:normal;color:#404040;text-align:right;letter-spacing:0.25px;margin-left:0.25px;">-2.000.000</div>
<div class="r" style="left:111px;top:574px;width:3px;height:1px;background:#a0a0a0;"></div>
<div class="r" style="left:111px;top:587px;width:3px;height:1px;background:#a0a0a0;"></div>
<div class="r" style="left:111px;top:615px;width:3px;height:1px;background:#a0a0a0;"></div>
<div class="r" style="left:111px;top:628px;width:3px;height:1px;background:#a0a0a0;"></div>
<div class="r" style="left:111px;top:656px;width:3px;height:1px;background:#a0a0a0;"></div>
<div class="r" style="left:111px;top:670px;width:3px;height:1px;background:#a0a0a0;"></div>
<div class="r" style="left:111px;top:698px;width:3px;height:1px;background:#a0a0a0;"></div>
<div class="r" style="left:111px;top:712px;width:3px;height:1px;background:#a0a0a0;"></div>
<div class="r" style="left:111px;top:740px;width:3px;height:1px;background:#a0a0a0;"></div>
<div class="r" style="left:111px;top:753px;width:3px;height:1px;background:#a0a0a0;"></div>
<div class="r" style="left:111px;top:781px;width:3px;height:1px;background:#a0a0a0;"></div>
<div class="r" style="left:111px;top:795px;width:3px;height:1px;background:#a0a0a0;"></div>
<div class="r" style="left:114px;top:563px;width:1px;height:249px;background:#a0a0a0;"></div>
<div class="r" style="left:114px;top:811px;width:800px;height:1px;background:#a0a0a0;"></div>
<div class="r" style="left:134px;top:812px;width:1px;height:2px;background:#a0a0a0;"></div>
<div class="r" style="left:174px;top:812px;width:1px;height:2px;background:#a0a0a0;"></div>
<div class="r" style="left:214px;top:812px;width:1px;height:5px;background:#a0a0a0;"></div>
<div class="r" style="left:254px;top:812px;width:1px;height:2px;background:#a0a0a0;"></div>
<div class="r" style="left:294px;top:812px;width:1px;height:2px;background:#a0a0a0;"></div>
<div class="r" style="left:334px;top:812px;width:1px;height:2px;background:#a0a0a0;"></div>
<div class="r" style="left:374px;top:812px;width:1px;height:2px;background:#a0a0a0;"></div>
<div class="r" style="left:414px;top:812px;width:1px;height:5px;background:#a0a0a0;"></div>
<div class="r" style="left:454px;top:812px;width:1px;height:2px;background:#a0a0a0;"></div>
<div class="r" style="left:493px;top:812px;width:1px;height:2px;background:#a0a0a0;"></div>
<div class="r" style="left:533px;top:812px;width:1px;height:2px;background:#a0a0a0;"></div>
<div class="r" style="left:573px;top:812px;width:1px;height:2px;background:#a0a0a0;"></div>
<div class="r" style="left:613px;top:812px;width:1px;height:5px;background:#a0a0a0;"></div>
<div class="r" style="left:653px;top:812px;width:1px;height:2px;background:#a0a0a0;"></div>
<div class="r" style="left:693px;top:812px;width:1px;height:2px;background:#a0a0a0;"></div>
<div class="r" style="left:733px;top:812px;width:1px;height:2px;background:#a0a0a0;"></div>
<div class="r" style="left:773px;top:812px;width:1px;height:2px;background:#a0a0a0;"></div>
<div class="r" style="left:813px;top:812px;width:1px;height:5px;background:#a0a0a0;"></div>
<div class="r" style="left:853px;top:812px;width:1px;height:2px;background:#a0a0a0;"></div>
<div class="r" style="left:893px;top:812px;width:1px;height:2px;background:#a0a0a0;"></div>
<div class="r" style="left:134px;top:584px;width:161px;height:142px;background:#595959;"></div>
<div class="r" style="left:295px;top:584px;width:39px;height:1px;background:#666;"></div>
<div class="r" style="left:334px;top:584px;width:161px;height:4px;background:#dd0808;box-shadow:inset 0 0 0 1px #a00000;"></div>
<div class="r" style="left:495px;top:587px;width:38px;height:1px;background:#666;"></div>
<div class="r" style="left:533px;top:587px;width:161px;height:204px;background:#ee0000;box-shadow:inset 0 0 0 1px #b00000;"></div>
<div class="r" style="left:694px;top:790px;width:39px;height:1px;background:#666;"></div>
<div class="r" style="left:733px;top:726px;width:161px;height:65px;background:#808080;box-shadow:inset 0 0 0 1px #6a6a6a;"></div>
<div class="t" style="left:-85.50px;top:822.21px;width:600px;font-size:18px;line-height:24px;font-weight:normal;color:#404040;text-align:center;">Umsatz</div>
<div class="t" style="left:114.50px;top:822.21px;width:600px;font-size:18px;line-height:24px;font-weight:normal;color:#404040;text-align:center;letter-spacing:0.35px;">Positionsrabatt</div>
<div class="t" style="left:314.00px;top:822.21px;width:600px;font-size:18px;line-height:24px;font-weight:normal;color:#404040;text-align:center;">WE</div>
<div class="t" style="left:513.80px;top:822.21px;width:600px;font-size:18px;line-height:24px;font-weight:normal;color:#404040;text-align:center;">Total</div>
<div class="r" style="left:281px;top:854px;width:645px;height:1px;background:#c8c8c8;"></div>
<div class="r" style="left:281px;top:855px;width:645px;height:33px;background:#efefef;"></div>
<div class="r" style="left:0px;top:854px;width:1px;height:35px;background:#d8d8d8;"></div>
<div class="r" style="left:0px;top:888px;width:926px;height:1px;background:#e6e6e6;"></div>
<div class="t" style="left:7.50px;top:863.77px;width:600px;font-size:13.5px;line-height:18px;font-weight:normal;color:#2a2a2a;text-align:left;letter-spacing:0.05px;">DB Plan - Ist Detail Wasserfall 2023  |  2023</div>
<div class="t" style="left:287.00px;top:863.77px;width:600px;font-size:13.5px;line-height:18px;font-weight:normal;color:#666;text-align:left;letter-spacing:0.2px;">Grafik Monatsverlauf</div>
</body></html>
